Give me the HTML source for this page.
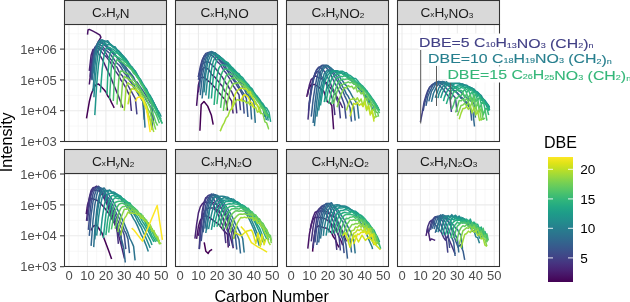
<!DOCTYPE html>
<html><head><meta charset="utf-8"><style>
html,body{margin:0;padding:0;background:#fff;width:630px;height:302px;overflow:hidden;}
body{position:relative;font-family:"Liberation Sans", sans-serif;}
</style></head><body>
<svg width="630" height="302" viewBox="0 0 630 302" style="position:absolute;left:0;top:0;will-change:transform">
<rect x="64" y="24" width="102" height="117" fill="#fff"/>
<path d="M78.22 24V141M96.67 24V141M115.12 24V141M133.57 24V141M152.03 24V141M64 33.70H166M64 64.50H166M64 95.30H166M64 126.10H166" stroke="#f2f2f2" stroke-width="0.6" fill="none"/>
<path d="M69.00 24V141M87.45 24V141M105.90 24V141M124.35 24V141M142.80 24V141M161.25 24V141M64 49.10H166M64 79.90H166M64 110.70H166" stroke="#ebebeb" stroke-width="1.1" fill="none"/>
<g id="curves_0_0"></g>
<rect x="175" y="24" width="102" height="117" fill="#fff"/>
<path d="M189.22 24V141M207.68 24V141M226.12 24V141M244.57 24V141M263.02 24V141M175 33.70H277M175 64.50H277M175 95.30H277M175 126.10H277" stroke="#f2f2f2" stroke-width="0.6" fill="none"/>
<path d="M180.00 24V141M198.45 24V141M216.90 24V141M235.35 24V141M253.80 24V141M272.25 24V141M175 49.10H277M175 79.90H277M175 110.70H277" stroke="#ebebeb" stroke-width="1.1" fill="none"/>
<g id="curves_0_1"></g>
<rect x="286" y="24" width="102" height="117" fill="#fff"/>
<path d="M300.23 24V141M318.68 24V141M337.12 24V141M355.57 24V141M374.02 24V141M286 33.70H388M286 64.50H388M286 95.30H388M286 126.10H388" stroke="#f2f2f2" stroke-width="0.6" fill="none"/>
<path d="M291.00 24V141M309.45 24V141M327.90 24V141M346.35 24V141M364.80 24V141M383.25 24V141M286 49.10H388M286 79.90H388M286 110.70H388" stroke="#ebebeb" stroke-width="1.1" fill="none"/>
<g id="curves_0_2"></g>
<rect x="397" y="24" width="102" height="117" fill="#fff"/>
<path d="M411.23 24V141M429.68 24V141M448.12 24V141M466.57 24V141M485.02 24V141M397 33.70H499M397 64.50H499M397 95.30H499M397 126.10H499" stroke="#f2f2f2" stroke-width="0.6" fill="none"/>
<path d="M402.00 24V141M420.45 24V141M438.90 24V141M457.35 24V141M475.80 24V141M494.25 24V141M397 49.10H499M397 79.90H499M397 110.70H499" stroke="#ebebeb" stroke-width="1.1" fill="none"/>
<g id="curves_0_3"></g>
<rect x="64" y="173" width="102" height="93" fill="#fff"/>
<path d="M78.22 173V266M96.67 173V266M115.12 173V266M133.57 173V266M152.03 173V266M64 189.45H166M64 220.35H166M64 251.25H166" stroke="#f2f2f2" stroke-width="0.6" fill="none"/>
<path d="M69.00 173V266M87.45 173V266M105.90 173V266M124.35 173V266M142.80 173V266M161.25 173V266M64 174.00H166M64 204.90H166M64 235.80H166" stroke="#ebebeb" stroke-width="1.1" fill="none"/>
<g id="curves_1_0"></g>
<rect x="175" y="173" width="102" height="93" fill="#fff"/>
<path d="M189.22 173V266M207.68 173V266M226.12 173V266M244.57 173V266M263.02 173V266M175 189.45H277M175 220.35H277M175 251.25H277" stroke="#f2f2f2" stroke-width="0.6" fill="none"/>
<path d="M180.00 173V266M198.45 173V266M216.90 173V266M235.35 173V266M253.80 173V266M272.25 173V266M175 174.00H277M175 204.90H277M175 235.80H277" stroke="#ebebeb" stroke-width="1.1" fill="none"/>
<g id="curves_1_1"></g>
<rect x="286" y="173" width="102" height="93" fill="#fff"/>
<path d="M300.23 173V266M318.68 173V266M337.12 173V266M355.57 173V266M374.02 173V266M286 189.45H388M286 220.35H388M286 251.25H388" stroke="#f2f2f2" stroke-width="0.6" fill="none"/>
<path d="M291.00 173V266M309.45 173V266M327.90 173V266M346.35 173V266M364.80 173V266M383.25 173V266M286 174.00H388M286 204.90H388M286 235.80H388" stroke="#ebebeb" stroke-width="1.1" fill="none"/>
<g id="curves_1_2"></g>
<rect x="397" y="173" width="102" height="93" fill="#fff"/>
<path d="M411.23 173V266M429.68 173V266M448.12 173V266M466.57 173V266M485.02 173V266M397 189.45H499M397 220.35H499M397 251.25H499" stroke="#f2f2f2" stroke-width="0.6" fill="none"/>
<path d="M402.00 173V266M420.45 173V266M438.90 173V266M457.35 173V266M475.80 173V266M494.25 173V266M397 174.00H499M397 204.90H499M397 235.80H499" stroke="#ebebeb" stroke-width="1.1" fill="none"/>
<g id="curves_1_3"></g>
<svg x="65" y="25" width="101" height="116" viewBox="65 25 101 116" overflow="hidden"><g fill="none" stroke-width="1.5" stroke-linejoin="round"><path d="M86.5 118.3 L87.5 112.3 L89.3 101.8 L91.1 94.5 L93.0 89.7 L94.8 86.1 L96.7 84.2 L98.5 84.1 L100.4 85.8 L102.2 87.7 L104.1 89.7 L105.9 92.0 L107.7 96.0 L109.6 98.3 L111.4 102.4 L113.3 106.0 L114.2 107.9" stroke="#440154"/><path d="M87.5 34.6 L88.0 30.0 L89.3 29.4 L93.0 31.2 L96.7 33.1 L100.0 35.2 L100.9 37.4 L98.5 41.4 L95.8 47.6 L92.6 56.8 L91.1 66.0 L90.2 76.8 L89.3 84.5" stroke="#471365"/><path d="M89.3 70.8 L91.1 55.3 L93.0 49.4 L94.8 49.2 L96.7 50.2 L98.5 53.6 L100.4 56.1 L102.2 59.1 L104.1 63.0 L105.9 67.1 L107.7 71.1 L109.6 74.9 L111.4 78.9 L113.3 83.8 L115.1 88.0 L117.0 92.6 L118.8 97.0 L120.7 102.0 L122.5 107.0 L122.7 107.9" stroke="#482374"/><path d="M90.2 76.9 L91.1 64.8 L93.0 51.3 L94.8 48.4 L96.7 47.1 L98.5 48.5 L100.4 50.4 L102.2 52.6 L104.1 55.0 L105.9 56.4 L107.7 58.6 L109.6 61.2 L111.4 64.0 L113.3 67.2 L115.1 70.7 L117.0 73.1 L118.8 75.7 L120.7 79.7 L122.5 82.0 L124.3 85.2 L126.2 88.3 L128.0 92.5 L129.9 95.6 L131.4 111.0" stroke="#46327e"/><path d="M91.1 73.9 L93.0 56.3 L94.8 47.2 L96.7 46.3 L98.5 46.4 L100.4 48.0 L102.2 48.8 L104.1 50.8 L105.9 53.2 L107.7 56.7 L109.6 57.9 L111.4 60.0 L113.3 62.4 L115.1 65.7 L117.0 67.3 L118.8 71.4 L120.7 74.0 L122.5 76.1 L124.3 79.5 L126.2 81.6 L128.0 85.5 L129.9 89.0 L131.7 92.0 L133.6 95.6 L135.4 99.0 L136.9 114.4" stroke="#424086"/><path d="M91.1 79.6 L93.0 59.5 L94.8 48.6 L96.7 45.5 L98.5 43.7 L100.4 45.4 L102.2 45.9 L104.1 48.4 L105.9 50.2 L107.7 51.6 L109.6 53.2 L111.4 55.7 L113.3 58.3 L115.1 60.9 L117.0 63.2 L118.8 64.8 L120.7 67.0 L122.5 70.1 L124.3 73.1 L126.2 74.9 L128.0 78.6 L129.9 81.1 L131.7 83.3 L133.6 87.5 L135.4 89.2 L137.3 92.6 L139.1 95.3 L141.0 98.4 L142.8 101.4 L144.3 119.8" stroke="#3d4e8a"/><path d="M92.1 73.4 L93.0 64.5 L94.8 50.8 L96.7 44.9 L98.5 42.7 L100.4 42.5 L102.2 43.6 L104.1 44.8 L105.9 46.5 L107.7 48.8 L109.6 49.8 L111.4 51.9 L113.3 54.0 L115.1 55.2 L117.0 57.6 L118.8 59.8 L120.7 62.0 L122.5 63.5 L124.3 65.7 L126.2 67.6 L128.0 70.5 L129.9 72.4 L131.7 74.7 L133.6 77.3 L135.4 81.4 L137.3 82.3 L139.1 85.3 L141.0 87.9 L142.8 90.6 L144.6 93.3 L146.5 96.0 L148.3 99.1 L150.2 102.6 L152.0 104.6 L153.5 123.1" stroke="#365c8d"/><path d="M92.1 80.3 L93.0 67.9 L94.8 52.9 L96.7 44.7 L98.5 42.2 L100.4 41.6 L102.2 42.3 L104.1 44.3 L105.9 45.0 L107.7 46.9 L109.6 49.2 L111.4 51.7 L113.3 52.3 L115.1 54.8 L117.0 57.1 L118.8 59.3 L120.7 60.7 L122.5 64.0 L124.3 66.4 L126.2 69.6 L128.0 70.8 L129.9 73.7 L131.7 76.3 L133.6 79.5 L135.4 81.9 L137.3 85.0 L139.1 87.8 L141.0 91.0 L142.8 94.6 L144.6 96.4 L146.5 100.8 L148.3 103.1 L150.2 106.2 L151.1 108.1 L152.6 129.7" stroke="#31688e"/><path d="M93.0 73.5 L94.8 56.2 L96.7 46.4 L98.5 41.5 L100.4 40.7 L102.2 40.3 L104.1 42.1 L105.9 44.2 L107.7 46.8 L109.6 48.6 L111.4 49.8 L113.3 52.7 L115.1 55.3 L117.0 57.0 L118.8 61.0 L120.7 63.4 L122.5 66.2 L124.3 68.7 L126.2 72.2 L128.0 75.3 L129.9 78.9 L131.7 81.0 L133.6 84.2 L135.4 88.1 L137.3 91.1 L139.1 95.2 L141.0 98.3 L142.8 100.9 L143.5 102.9 L145.0 127.6" stroke="#2c738e"/><path d="M93.0 91.2 L94.8 67.0 L96.7 50.9 L98.5 43.3 L100.4 40.0 L102.2 39.9 L104.1 40.6 L105.9 41.5 L107.7 40.7 L109.6 43.3 L111.4 45.6 L113.3 46.5 L115.1 47.5 L117.0 49.8 L118.8 50.9 L120.7 53.0 L122.5 55.7 L124.3 58.0 L126.2 60.5 L128.0 62.8 L129.9 65.6 L131.7 66.9 L133.6 69.3 L135.4 73.4 L137.3 76.1 L139.1 79.2 L141.0 81.8 L142.8 85.8 L144.6 87.9 L146.5 89.9 L148.3 93.9 L150.2 96.6 L152.0 100.6 L153.9 102.9 L155.7 107.1 L157.6 110.9" stroke="#277f8e"/><path d="M93.9 97.2 L94.8 84.4 L96.7 63.9 L98.5 50.6 L100.4 44.2 L102.2 41.2 L104.1 41.8 L105.9 41.5 L107.7 42.3 L109.6 44.0 L111.4 44.8 L113.3 46.7 L115.1 46.8 L117.0 49.9 L118.8 51.6 L120.7 53.8 L122.5 55.5 L124.3 57.5 L126.2 59.4 L128.0 62.3 L129.9 64.6 L131.7 67.6 L133.6 70.0 L135.4 71.0 L137.3 74.6 L139.1 78.2 L141.0 81.4 L142.8 84.2 L144.6 86.9 L146.5 90.0 L148.3 93.5 L150.2 97.1 L152.0 99.1 L153.9 103.0 L155.7 106.8 L157.6 110.3 L159.4 114.0" stroke="#238a8d"/><path d="M94.8 115.1 L96.7 84.1 L98.5 64.9 L100.4 52.8 L102.2 46.5 L104.1 43.5 L105.9 44.1 L107.7 44.7 L109.6 44.5 L111.4 45.5 L113.3 47.6 L115.1 48.3 L117.0 50.2 L118.8 51.7 L120.7 54.2 L122.5 55.2 L124.3 57.1 L126.2 59.5 L128.0 61.8 L129.9 66.2 L131.7 66.8 L133.6 69.5 L135.4 72.2 L137.3 75.1 L139.1 77.6 L141.0 80.3 L142.8 83.6 L144.6 86.7 L146.5 89.0 L148.3 93.3 L150.2 95.5 L152.0 99.2 L153.9 103.1 L155.7 106.3 L157.6 110.1 L159.4 112.9 L161.2 116.7" stroke="#1f968b"/><path d="M100.4 92.5 L102.2 69.1 L104.1 55.1 L105.9 48.8 L107.7 47.7 L109.6 47.5 L111.4 48.6 L113.3 49.4 L115.1 50.8 L117.0 52.0 L118.8 54.4 L120.7 55.1 L122.5 57.4 L124.3 59.2 L126.2 61.6 L128.0 63.6 L129.9 66.6 L131.7 68.0 L133.6 71.9 L135.4 74.3 L137.3 76.5 L139.1 78.8 L141.0 82.3 L142.8 85.5 L144.6 89.2 L146.5 91.8 L148.3 95.0 L150.2 97.6 L152.0 101.5 L153.9 106.0 L155.7 107.9 L157.6 112.6 L159.4 116.6 L161.2 119.3" stroke="#1fa187"/><path d="M107.0 94.4 L107.7 76.5 L109.6 54.6 L111.4 51.2 L113.3 51.5 L115.1 53.3 L117.0 52.7 L118.8 54.4 L120.7 56.4 L122.5 58.2 L124.3 60.0 L126.2 61.4 L128.0 63.8 L129.9 66.1 L131.7 67.7 L133.6 70.4 L135.4 73.3 L137.3 75.5 L139.1 78.0 L141.0 82.1 L142.8 84.9 L144.6 87.4 L146.5 90.8 L148.3 94.4 L150.2 97.4 L152.0 102.1 L153.9 105.9 L155.7 109.4 L157.6 112.9 L159.4 117.3 L161.2 121.2 L162.2 123.5" stroke="#26ad81"/><path d="M109.6 98.7 L111.4 65.5 L113.3 56.0 L115.1 55.6 L117.0 56.8 L118.8 57.6 L120.7 58.9 L122.5 59.7 L124.3 61.5 L126.2 62.5 L128.0 65.6 L129.9 67.0 L131.7 69.1 L133.6 71.9 L135.4 73.9 L137.3 77.4 L139.1 78.5 L141.0 83.0 L142.8 84.9 L144.6 89.0 L146.5 91.1 L148.3 95.2 L150.2 98.4 L152.0 102.0 L153.9 105.1 L155.7 109.5 L157.6 114.6 L159.4 117.6 L161.2 121.2 L162.2 123.5" stroke="#35b779"/><path d="M113.3 101.0 L115.1 65.5 L117.0 59.5 L118.8 60.7 L120.7 61.2 L122.5 62.3 L124.3 63.7 L126.2 65.5 L128.0 66.2 L129.9 68.2 L131.7 69.9 L133.6 73.4 L135.4 74.7 L137.3 77.4 L139.1 80.1 L141.0 84.1 L142.8 86.9 L144.6 90.5 L146.5 93.9 L148.3 98.3 L150.2 100.8 L152.0 105.4 L153.9 110.4 L155.7 113.6 L157.6 118.0 L159.4 123.3" stroke="#4ac16d"/><path d="M117.0 104.6 L118.8 79.2 L120.7 71.0 L122.5 71.2 L124.3 72.0 L126.2 73.6 L128.0 73.6 L129.9 75.0 L131.7 76.8 L133.6 80.0 L135.4 81.3 L137.3 84.4 L139.1 86.2 L141.0 90.1 L142.8 93.0 L144.6 96.2 L146.5 99.0 L148.3 103.7 L150.2 107.6 L152.0 112.2 L153.9 115.9 L155.7 121.8 L157.6 125.6" stroke="#65cb5e"/><path d="M120.7 107.5 L122.5 83.0 L124.3 76.3 L126.2 77.8 L128.0 78.2 L129.9 80.2 L131.7 80.8 L133.6 83.7 L135.4 84.4 L137.3 87.6 L139.1 89.7 L141.0 93.4 L142.8 96.5 L144.6 101.2 L146.5 104.9 L148.3 109.9 L150.2 112.9 L152.0 119.9 L153.9 123.2 L155.7 129.6" stroke="#81d34d"/><path d="M124.3 110.7 L126.2 86.5 L128.0 82.7 L129.9 84.3 L131.7 85.1 L133.6 86.8 L135.4 87.9 L137.3 90.6 L139.1 93.1 L141.0 97.7 L142.8 100.5 L144.6 105.7 L146.5 109.5 L148.3 115.2 L150.2 119.7 L152.0 127.2 L153.9 132.0" stroke="#a0da39"/><path d="M128.0 104.3 L129.9 93.1 L131.7 88.8 L133.6 89.1 L135.4 89.8 L137.3 91.8 L139.1 92.4 L141.0 96.7 L142.8 98.0 L144.6 104.2 L146.5 106.4 L148.3 114.4 L150.2 120.1 L152.0 130.1" stroke="#c0df25"/><path d="M135.4 101.4 L137.3 97.6 L139.1 97.0 L141.0 97.9 L142.8 99.1 L144.6 102.9 L146.5 109.2 L148.3 119.7 L150.2 132.2" stroke="#fde725"/></g></svg>
<svg x="176" y="25" width="101" height="116" viewBox="176 25 101 116" overflow="hidden"><g fill="none" stroke-width="1.5" stroke-linejoin="round"><path d="M199.9 130.7 L201.2 104.5 L204.0 101.5 L207.7 106.1 L211.4 115.3 L213.2 124.6" stroke="#440154"/><path d="M196.6 105.9 L198.4 85.1 L200.3 77.8 L202.1 77.4 L204.0 77.3 L205.8 78.8 L207.7 80.7 L209.5 81.9 L211.4 83.8 L213.2 85.7 L215.1 87.8 L216.9 89.7 L218.7 92.4 L220.6 94.4 L222.4 96.9 L224.3 98.7 L226.1 101.4 L227.6 110.7" stroke="#471365"/><path d="M198.4 92.4 L200.3 76.9 L202.1 69.6 L204.0 67.6 L205.8 68.1 L207.7 68.8 L209.5 70.6 L211.4 74.2 L213.2 75.9 L215.1 77.3 L216.9 79.7 L218.7 81.9 L220.6 84.4 L222.4 86.2 L224.3 90.4 L226.1 92.8 L228.0 94.6 L229.8 98.2 L231.7 101.2 L233.1 113.5" stroke="#482374"/><path d="M198.4 77.1 L200.3 70.1 L202.1 64.7 L204.0 62.4 L205.8 62.1 L207.7 61.7 L209.5 62.5 L211.4 64.5 L213.2 66.0 L215.1 68.0 L216.9 70.3 L218.7 72.9 L220.6 74.9 L222.4 77.3 L224.3 80.3 L226.1 83.6 L228.0 85.8 L229.8 89.3 L231.7 91.7 L233.5 95.7 L235.3 98.0 L236.8 113.4" stroke="#46327e"/><path d="M198.3 76.8 L198.4 76.3 L200.3 66.6 L202.1 60.2 L204.0 56.3 L205.8 55.0 L207.7 54.3 L209.5 53.6 L211.4 55.1 L213.2 56.4 L215.1 58.1 L216.9 61.3 L218.7 62.8 L220.6 64.8 L222.4 68.1 L224.3 71.0 L226.1 73.1 L228.0 76.2 L229.8 78.9 L231.7 82.5 L233.5 86.1 L235.3 88.7 L237.2 92.2 L239.0 94.9 L240.5 110.3" stroke="#424086"/><path d="M198.4 79.8 L200.3 69.7 L202.1 61.9 L204.0 56.1 L205.8 53.4 L207.7 52.8 L209.5 52.2 L211.4 52.4 L213.2 53.7 L215.1 55.2 L216.9 57.4 L218.7 59.6 L220.6 61.9 L222.4 63.6 L224.3 67.6 L226.1 69.1 L228.0 71.7 L229.8 75.0 L231.7 77.0 L233.5 80.3 L235.3 82.6 L237.2 86.0 L239.0 88.7 L240.9 91.6 L242.7 95.1 L244.2 113.6" stroke="#3d4e8a"/><path d="M199.4 86.5 L200.3 79.5 L202.1 66.8 L204.0 60.1 L205.8 55.8 L207.7 53.1 L209.5 52.4 L211.4 51.8 L213.2 53.2 L215.1 54.6 L216.9 56.7 L218.7 58.1 L220.6 60.8 L222.4 62.2 L224.3 64.1 L226.1 67.9 L228.0 70.8 L229.8 72.0 L231.7 73.7 L233.5 78.1 L235.3 81.0 L237.2 83.0 L239.0 86.5 L240.9 89.4 L242.7 92.3 L244.6 95.0 L246.4 98.6 L247.9 117.0" stroke="#365c8d"/><path d="M200.3 95.2 L202.1 78.4 L204.0 66.9 L205.8 59.1 L207.7 55.1 L209.5 52.7 L211.4 52.7 L213.2 53.1 L215.1 53.0 L216.9 55.2 L218.7 56.8 L220.6 58.4 L222.4 60.7 L224.3 62.7 L226.1 64.5 L228.0 66.8 L229.8 69.7 L231.7 71.2 L233.5 74.2 L235.3 77.0 L237.2 79.4 L239.0 81.8 L240.9 83.5 L242.7 87.6 L244.6 89.7 L246.4 93.6 L248.3 95.5 L250.1 98.0 L251.6 119.5" stroke="#31688e"/><path d="M202.1 98.5 L204.0 79.2 L205.8 65.8 L207.7 57.6 L209.5 53.6 L211.4 51.5 L213.2 52.1 L215.1 53.3 L216.9 54.4 L218.7 55.9 L220.6 57.5 L222.4 59.4 L224.3 61.2 L226.1 64.1 L228.0 65.0 L229.8 67.9 L231.7 70.4 L233.5 71.9 L235.3 74.0 L237.2 76.8 L239.0 79.5 L240.9 82.6 L242.7 83.4 L244.6 87.0 L246.4 90.7 L248.3 93.3 L250.1 95.7 L252.0 99.3 L253.8 101.4 L255.3 122.9" stroke="#2c738e"/><path d="M204.0 92.4 L205.8 73.8 L207.7 62.5 L209.5 57.8 L211.4 53.6 L213.2 53.6 L215.1 52.8 L216.9 54.5 L218.7 55.8 L220.6 58.1 L222.4 58.5 L224.3 60.2 L226.1 63.4 L228.0 64.7 L229.8 67.1 L231.7 68.8 L233.5 71.4 L235.3 72.1 L237.2 75.5 L239.0 77.3 L240.9 79.2 L242.7 81.9 L244.6 84.0 L246.4 86.4 L248.3 88.5 L250.1 91.3 L252.0 93.3 L253.8 95.5 L255.6 98.0 L257.5 100.2 L259.3 102.8 L261.2 104.8 L263.0 107.8 L264.5 117.0" stroke="#277f8e"/><path d="M205.8 95.4 L207.7 76.9 L209.5 64.9 L211.4 58.5 L213.2 54.6 L215.1 54.6 L216.9 54.9 L218.7 55.7 L220.6 57.2 L222.4 59.2 L224.3 61.7 L226.1 62.4 L228.0 64.4 L229.8 67.1 L231.7 68.2 L233.5 70.9 L235.3 73.2 L237.2 74.8 L239.0 77.1 L240.9 79.2 L242.7 82.3 L244.6 83.0 L246.4 86.4 L248.3 89.2 L250.1 90.6 L252.0 93.4 L253.8 95.5 L255.6 98.3 L257.5 100.6 L259.3 103.0 L261.2 106.0 L263.0 107.8 L264.9 110.9 L266.3 120.2" stroke="#238a8d"/><path d="M208.6 98.8 L209.5 86.8 L211.4 70.2 L213.2 61.3 L215.1 57.4 L216.9 55.6 L218.7 57.1 L220.6 57.9 L222.4 58.7 L224.3 60.9 L226.1 61.8 L228.0 63.6 L229.8 64.9 L231.7 67.6 L233.5 69.4 L235.3 70.9 L237.2 74.2 L239.0 73.8 L240.9 77.6 L242.7 79.8 L244.6 81.3 L246.4 83.9 L248.3 87.0 L250.1 88.2 L252.0 90.5 L253.8 93.4 L255.6 95.8 L257.5 97.9 L259.3 101.0 L261.2 102.9 L263.0 105.5 L264.9 108.4 L266.7 111.3 L268.2 120.6" stroke="#1f968b"/><path d="M211.4 98.5 L213.2 77.6 L215.1 64.7 L216.9 59.8 L218.7 58.0 L220.6 58.6 L222.4 59.5 L224.3 61.2 L226.1 61.9 L228.0 62.8 L229.8 65.4 L231.7 67.2 L233.5 68.7 L235.3 70.7 L237.2 72.7 L239.0 74.2 L240.9 76.4 L242.7 77.7 L244.6 80.4 L246.4 82.4 L248.3 84.4 L250.1 87.2 L252.0 88.6 L253.8 91.9 L255.6 94.4 L257.5 96.6 L259.3 98.9 L261.2 101.9 L263.0 103.8 L264.9 107.1 L266.7 108.2 L268.6 111.5 L269.1 112.5 L270.6 121.8" stroke="#1fa187"/><path d="M214.1 105.0 L215.1 92.8 L216.9 76.5 L218.7 68.5 L220.6 65.4 L222.4 64.6 L224.3 65.3 L226.1 65.5 L228.0 66.6 L229.8 68.4 L231.7 69.6 L233.5 72.0 L235.3 72.8 L237.2 74.8 L239.0 76.5 L240.9 77.9 L242.7 81.7 L244.6 82.6 L246.4 85.4 L248.3 86.8 L250.1 90.0 L252.0 92.0 L253.8 94.1 L255.6 96.4 L257.5 99.1 L259.3 102.1 L261.2 104.7 L263.0 106.7 L264.9 109.8 L266.7 113.4 L268.6 115.0 L269.5 116.7" stroke="#26ad81"/><path d="M216.9 104.1 L218.7 87.4 L220.6 76.4 L222.4 71.9 L224.3 69.1 L226.1 69.3 L228.0 69.2 L229.8 69.9 L231.7 71.7 L233.5 72.6 L235.3 73.9 L237.2 74.9 L239.0 76.8 L240.9 79.5 L242.7 80.6 L244.6 82.5 L246.4 83.9 L248.3 87.9 L250.1 89.6 L252.0 91.2 L253.8 94.9 L255.6 97.4 L257.5 99.2 L259.3 101.7 L261.2 105.3 L263.0 107.6 L264.9 110.7 L266.7 113.1 L268.6 116.8 L269.5 117.9" stroke="#35b779"/><path d="M220.6 107.9 L222.4 91.3 L224.3 80.7 L226.1 75.7 L228.0 74.0 L229.8 73.9 L231.7 74.0 L233.5 75.5 L235.3 76.5 L237.2 77.7 L239.0 79.4 L240.9 80.0 L242.7 81.3 L244.6 85.2 L246.4 86.2 L248.3 88.7 L250.1 89.3 L252.0 92.2 L253.8 94.5 L255.6 97.5 L257.5 99.4 L259.3 102.3 L261.2 104.7 L263.0 107.5 L264.9 109.8 L266.7 114.2 L268.6 116.4" stroke="#4ac16d"/><path d="M223.4 111.0 L224.3 103.1 L226.1 90.2 L228.0 83.4 L229.8 79.9 L231.7 78.3 L233.5 77.7 L235.3 78.9 L237.2 79.6 L239.0 80.9 L240.9 81.4 L242.7 83.0 L244.6 83.7 L246.4 87.5 L248.3 88.2 L250.1 91.9 L252.0 92.8 L253.8 96.4 L255.6 97.8 L257.5 101.5 L259.3 103.1 L261.2 107.6 L263.0 109.2 L264.9 113.1 L266.7 115.8" stroke="#65cb5e"/><path d="M226.1 110.4 L228.0 99.7 L229.8 90.4 L231.7 86.5 L233.5 83.4 L235.3 83.5 L237.2 82.7 L239.0 82.7 L240.9 84.6 L242.7 85.7 L244.6 86.5 L246.4 90.0 L248.3 91.1 L250.1 95.5 L252.0 95.7 L253.8 99.9 L255.6 101.8 L257.5 106.1 L259.3 107.1 L261.2 113.2 L263.0 114.1 L264.9 121.9 L266.7 122.9 L268.6 128.8 L269.1 128.8" stroke="#81d34d"/><path d="M219.9 131.1 L220.6 130.4 L222.4 125.9 L224.3 122.6 L226.1 117.9 L228.0 115.9 L229.8 110.8 L231.7 108.6 L233.5 105.5 L235.3 101.8 L237.2 99.6 L239.0 100.3 L240.9 99.6 L242.7 101.2 L244.6 100.8 L246.4 103.1 L248.3 102.0 L250.1 105.1 L252.0 104.8 L253.8 107.9 L255.6 107.3 L257.5 112.1 L259.3 111.3 L261.2 114.2" stroke="#a0da39"/><path d="M231.7 110.1 L233.5 100.8 L235.3 93.8 L237.2 90.5 L239.0 89.3 L240.9 88.1 L242.7 88.2 L244.6 89.0 L246.4 89.0 L248.3 92.8 L250.1 91.6 L252.0 97.0 L253.8 98.8 L255.6 104.2 L257.5 104.7 L259.3 111.3" stroke="#c0df25"/><path d="M240.9 101.2 L242.7 96.4 L244.6 94.6 L246.4 95.7 L248.3 97.1 L250.1 101.7 L252.0 102.8 L253.8 107.6" stroke="#dfe318"/></g></svg>
<svg x="287" y="25" width="101" height="116" viewBox="287 25 101 116" overflow="hidden"><g fill="none" stroke-width="1.5" stroke-linejoin="round"><path d="M306.7 96.8 L308.5 89.1 L311.3 84.5 L315.0 84.5 L319.0 87.3 L323.7 91.0 L327.3 101.8 L329.9 102.7 L331.8 105.5 L332.7 116.6 L333.6 129.2" stroke="#460a5d"/><path d="M307.6 95.2 L309.4 84.9 L311.3 79.3 L313.1 78.2 L315.0 76.0 L316.8 76.5 L318.7 77.8 L320.5 78.2 L322.4 79.5 L324.2 81.3 L326.1 82.3 L327.9 84.8 L329.7 86.9 L331.6 89.5 L333.4 91.5 L335.3 94.5 L337.1 97.2 L339.0 100.9 L340.8 104.0 L342.7 108.0" stroke="#482374"/><path d="M308.0 119.6 L309.4 102.7 L311.3 87.7 L313.1 78.6 L315.0 74.6 L316.8 72.1 L318.7 71.2 L320.5 74.9 L322.4 77.8 L324.2 81.1 L326.1 83.7 L327.9 88.0 L329.7 91.8 L331.6 96.5 L333.4 101.4 L334.9 115.2" stroke="#46327e"/><path d="M308.5 110.6 L309.4 102.2 L311.3 88.1 L313.1 79.6 L315.0 73.2 L316.8 69.4 L318.7 67.2 L320.5 67.9 L322.4 68.9 L324.2 71.2 L326.1 73.6 L327.9 77.8 L329.7 81.0 L331.6 86.6 L333.4 89.6 L335.3 94.3 L337.1 100.2 L339.0 104.5 L340.4 118.3" stroke="#424086"/><path d="M309.4 104.0 L311.3 91.6 L313.1 81.5 L315.0 73.9 L316.8 70.2 L318.7 67.6 L320.5 66.4 L322.4 65.2 L324.2 65.5 L326.1 67.2 L327.9 69.7 L329.7 72.3 L331.6 76.4 L333.4 80.2 L335.3 84.3 L337.1 86.6 L339.0 91.2 L340.8 94.9 L342.7 100.0 L344.5 104.9 L346.0 118.7" stroke="#3d4e8a"/><path d="M311.3 116.6 L313.1 99.8 L315.0 87.5 L316.8 78.2 L318.7 70.8 L320.5 67.7 L322.4 65.7 L324.2 65.3 L326.1 65.4 L327.9 66.2 L329.7 68.9 L331.6 71.8 L333.4 74.4 L335.3 77.8 L337.1 80.6 L339.0 83.6 L340.8 88.1 L342.7 90.8 L344.5 95.6 L346.4 99.3 L348.2 103.8 L350.0 107.7 L351.5 121.6" stroke="#365c8d"/><path d="M313.1 123.0 L315.0 103.1 L316.8 88.5 L318.7 78.2 L320.5 71.7 L322.4 68.3 L324.2 66.0 L326.1 65.3 L327.9 65.5 L329.7 67.3 L331.6 68.6 L333.4 71.9 L335.3 74.9 L337.1 76.5 L339.0 80.8 L340.8 82.9 L342.7 86.9 L344.5 89.6 L346.4 94.1 L348.2 96.2 L350.0 100.3 L351.9 104.3 L353.7 106.8 L355.2 120.7" stroke="#31688e"/><path d="M314.4 126.1 L315.0 119.7 L316.8 101.4 L318.7 87.4 L320.5 78.0 L322.4 71.4 L324.2 68.0 L326.1 67.1 L327.9 66.6 L329.7 67.0 L331.6 68.8 L333.4 70.2 L335.3 71.9 L337.1 73.7 L339.0 75.7 L340.8 79.1 L342.7 81.0 L344.5 84.0 L346.4 85.6 L348.2 89.4 L350.0 92.0 L351.9 95.7 L353.7 98.6 L355.6 101.3 L357.4 104.7 L358.9 118.6" stroke="#2c738e"/><path d="M316.8 116.7 L318.7 101.1 L320.5 88.0 L322.4 80.3 L324.2 73.7 L326.1 71.6 L327.9 69.6 L329.7 70.4 L331.6 69.6 L333.4 70.4 L335.3 70.7 L337.1 71.1 L339.0 72.0 L340.8 72.6 L342.7 73.4 L344.5 74.7 L346.4 76.3 L348.2 78.4 L350.0 79.7 L351.9 81.1 L353.7 83.9 L355.6 84.5 L357.4 87.0 L359.3 89.2 L361.1 91.0 L363.0 93.5 L364.8 96.3 L366.6 99.5 L368.5 101.6 L370.3 104.5 L372.2 108.0 L374.0 110.2" stroke="#277f8e"/><path d="M318.7 110.5 L320.5 97.6 L322.4 86.4 L324.2 79.9 L326.1 74.2 L327.9 71.8 L329.7 71.5 L331.6 71.1 L333.4 70.7 L335.3 71.1 L337.1 70.7 L339.0 71.6 L340.8 72.8 L342.7 73.3 L344.5 75.6 L346.4 75.6 L348.2 76.7 L350.0 78.6 L351.9 80.4 L353.7 81.5 L355.6 82.6 L357.4 85.3 L359.3 88.0 L361.1 88.9 L363.0 92.7 L364.8 94.0 L366.6 97.0 L368.5 98.8 L370.3 102.4 L372.2 104.2 L374.0 107.5 L375.9 111.5" stroke="#238a8d"/><path d="M320.5 105.5 L322.4 93.2 L324.2 84.0 L326.1 78.6 L327.9 74.9 L329.7 72.9 L331.6 71.5 L333.4 71.4 L335.3 71.5 L337.1 72.3 L339.0 71.7 L340.8 72.1 L342.7 74.0 L344.5 73.2 L346.4 74.8 L348.2 76.4 L350.0 78.2 L351.9 78.3 L353.7 79.8 L355.6 81.8 L357.4 84.0 L359.3 84.4 L361.1 87.0 L363.0 88.8 L364.8 89.3 L366.6 91.8 L368.5 94.6 L370.3 97.6 L372.2 99.5 L374.0 103.3 L375.9 104.9 L377.7 108.0" stroke="#1f968b"/><path d="M324.2 102.1 L326.1 90.8 L327.9 81.6 L329.7 76.4 L331.6 73.0 L333.4 71.0 L335.3 71.1 L337.1 71.2 L339.0 71.6 L340.8 71.3 L342.7 71.3 L344.5 72.4 L346.4 72.8 L348.2 74.6 L350.0 75.4 L351.9 76.8 L353.7 78.3 L355.6 78.4 L357.4 80.5 L359.3 82.9 L361.1 84.8 L363.0 86.4 L364.8 89.1 L366.6 90.5 L368.5 93.6 L370.3 95.6 L372.2 98.4 L374.0 100.8 L375.9 103.9 L377.7 106.9 L378.6 108.1" stroke="#1fa187"/><path d="M326.1 101.8 L327.9 91.9 L329.7 84.6 L331.6 79.0 L333.4 76.2 L335.3 74.9 L337.1 73.6 L339.0 74.1 L340.8 73.1 L342.7 73.8 L344.5 75.1 L346.4 74.8 L348.2 75.6 L350.0 78.2 L351.9 78.4 L353.7 79.5 L355.6 81.6 L357.4 82.7 L359.3 84.4 L361.1 85.5 L363.0 87.5 L364.8 88.5 L366.6 92.1 L368.5 93.7 L370.3 96.7 L372.2 99.1 L374.0 102.5 L375.9 105.6 L377.7 108.0 L379.6 110.3" stroke="#26ad81"/><path d="M328.8 103.8 L329.7 99.0 L331.6 90.5 L333.4 85.0 L335.3 79.8 L337.1 77.4 L339.0 77.0 L340.8 76.3 L342.7 76.7 L344.5 75.7 L346.4 76.6 L348.2 77.4 L350.0 77.9 L351.9 78.8 L353.7 80.3 L355.6 82.0 L357.4 83.4 L359.3 85.2 L361.1 85.9 L363.0 86.9 L364.8 90.7 L366.6 92.0 L368.5 94.2 L370.3 97.2 L372.2 99.2 L374.0 102.5 L375.9 104.2 L377.7 107.9 L379.6 110.7" stroke="#35b779"/><path d="M331.6 104.2 L333.4 95.8 L335.3 89.9 L337.1 84.7 L339.0 81.2 L340.8 80.0 L342.7 79.1 L344.5 79.5 L346.4 79.0 L348.2 79.0 L350.0 79.9 L351.9 79.8 L353.7 81.8 L355.6 83.4 L357.4 85.0 L359.3 85.3 L361.1 87.6 L363.0 89.0 L364.8 91.3 L366.6 93.0 L368.5 95.6 L370.3 98.9 L372.2 101.3 L374.0 103.8 L375.9 107.9 L377.7 109.8 L379.6 113.2" stroke="#4ac16d"/><path d="M333.4 103.7 L335.3 97.5 L337.1 91.3 L339.0 88.0 L340.8 84.8 L342.7 84.5 L344.5 83.2 L346.4 82.8 L348.2 81.8 L350.0 82.8 L351.9 82.2 L353.7 84.1 L355.6 84.3 L357.4 86.7 L359.3 86.9 L361.1 89.9 L363.0 90.1 L364.8 94.5 L366.6 94.6 L368.5 98.7 L370.3 100.3 L372.2 105.4 L374.0 105.6 L375.9 112.0 L377.7 112.8 L378.6 116.6" stroke="#65cb5e"/><path d="M337.1 107.3 L339.0 100.4 L340.8 95.0 L342.7 90.8 L344.5 87.5 L346.4 88.0 L348.2 85.5 L350.0 86.9 L351.9 86.3 L353.7 88.9 L355.6 86.8 L357.4 91.9 L359.3 90.3 L361.1 94.0 L363.0 92.1 L364.8 98.4 L366.6 98.3 L368.5 105.3 L370.3 103.0 L372.2 111.4 L374.0 108.7 L375.9 116.9 L377.7 116.1" stroke="#81d34d"/><path d="M346.4 110.4 L348.2 105.1 L350.0 99.4 L351.9 99.3 L353.7 98.0 L355.6 100.3 L357.4 97.8 L359.3 101.9 L361.1 99.0 L363.0 106.1 L364.8 98.7 L366.6 110.6 L368.5 105.5 L370.3 113.5 L372.2 111.6 L374.0 118.5 L375.9 115.6" stroke="#a0da39"/><path d="M350.0 116.4 L351.9 110.0 L353.7 103.3 L355.6 104.4 L357.4 102.3 L359.3 105.4 L361.1 103.7 L363.0 106.6 L364.8 102.4 L366.6 109.4 L368.5 105.9 L370.3 115.0 L372.2 110.3 L374.0 121.6" stroke="#c0df25"/></g></svg>
<svg x="398" y="25" width="101" height="116" viewBox="398 25 101 116" overflow="hidden"><g fill="none" stroke-width="1.5" stroke-linejoin="round"><path d="M420.4 122.1 L422.3 112.5 L424.1 102.0 L426.0 95.5 L427.8 90.6 L429.7 87.2 L431.5 86.0 L433.4 84.1 L435.2 84.0 L437.1 82.1 L438.9 84.7 L440.7 86.7 L442.6 88.6 L444.4 91.0 L446.3 93.6 L448.1 95.9 L450.0 98.2 L451.4 112.0" stroke="#424086"/><path d="M423.2 110.8 L424.1 105.5 L426.0 98.3 L427.8 92.3 L429.7 87.4 L431.5 85.1 L433.4 83.8 L435.2 82.8 L437.1 82.2 L438.9 81.5 L440.7 83.4 L442.6 84.7 L444.4 85.7 L446.3 88.4 L448.1 90.0 L450.0 91.4 L451.8 93.6 L453.7 96.1 L455.5 98.1 L457.0 111.9" stroke="#3d4e8a"/><path d="M426.0 105.8 L427.8 96.5 L429.7 91.8 L431.5 88.1 L433.4 84.5 L435.2 82.6 L437.1 82.3 L438.9 82.3 L440.7 81.7 L442.6 82.4 L444.4 82.7 L446.3 84.2 L448.1 85.7 L450.0 86.6 L451.8 88.6 L453.7 90.5 L455.5 91.4 L457.4 93.0 L459.2 95.1 L461.0 97.1 L462.9 98.4 L464.7 101.5 L466.6 101.9 L468.4 103.9 L470.3 106.8 L471.7 120.7" stroke="#365c8d"/><path d="M428.8 101.4 L429.7 98.2 L431.5 91.3 L433.4 88.3 L435.2 84.9 L437.1 82.4 L438.9 81.3 L440.7 82.5 L442.6 81.7 L444.4 82.1 L446.3 83.7 L448.1 84.1 L450.0 86.9 L451.8 87.8 L453.7 90.2 L455.5 90.9 L457.4 93.5 L459.2 95.6 L461.0 98.3 L462.9 98.8 L464.7 101.5 L466.6 103.7 L468.4 105.8 L470.3 108.5 L472.1 111.3 L473.0 112.6 L474.5 126.5" stroke="#31688e"/><path d="M431.5 101.8 L433.4 93.5 L435.2 89.6 L437.1 85.7 L438.9 83.4 L440.7 82.1 L442.6 81.5 L444.4 82.3 L446.3 83.2 L448.1 83.3 L450.0 83.8 L451.8 85.2 L453.7 86.7 L455.5 88.3 L457.4 89.4 L459.2 91.1 L461.0 92.2 L462.9 94.5 L464.7 95.7 L466.6 97.5 L468.4 98.9 L470.3 100.8 L472.1 101.5 L474.0 103.8 L475.4 117.7" stroke="#2c738e"/><path d="M435.2 97.7 L437.1 93.0 L438.9 87.8 L440.7 85.1 L442.6 83.0 L444.4 83.6 L446.3 81.8 L448.1 81.9 L450.0 83.0 L451.8 82.9 L453.7 82.9 L455.5 82.8 L457.4 82.8 L459.2 82.5 L461.0 84.0 L462.9 84.1 L464.7 85.1 L466.6 85.2 L468.4 86.7 L470.3 87.5 L472.1 90.0 L474.0 91.0 L475.8 92.9 L477.6 93.6 L479.5 96.0 L481.3 98.6 L483.2 101.0 L485.0 103.2 L486.9 106.5 L488.7 109.6" stroke="#277f8e"/><path d="M438.0 98.2 L438.9 94.0 L440.7 90.1 L442.6 86.8 L444.4 85.0 L446.3 84.0 L448.1 82.8 L450.0 82.6 L451.8 83.0 L453.7 82.9 L455.5 83.1 L457.4 83.2 L459.2 84.2 L461.0 84.1 L462.9 84.3 L464.7 85.2 L466.6 85.8 L468.4 86.7 L470.3 87.4 L472.1 88.0 L474.0 89.8 L475.8 91.1 L477.6 92.3 L479.5 94.1 L481.3 95.6 L483.2 99.5 L485.0 100.5 L486.9 103.6 L488.7 106.1 L489.6 107.2" stroke="#238a8d"/><path d="M440.7 97.9 L442.6 92.3 L444.4 88.8 L446.3 85.7 L448.1 85.1 L450.0 84.5 L451.8 83.8 L453.7 84.5 L455.5 83.2 L457.4 83.8 L459.2 83.5 L461.0 84.7 L462.9 85.2 L464.7 85.4 L466.6 85.7 L468.4 87.0 L470.3 87.4 L472.1 88.6 L474.0 89.0 L475.8 91.4 L477.6 92.2 L479.5 94.7 L481.3 96.7 L483.2 98.7 L485.0 101.3 L486.9 103.3 L488.7 105.7 L489.6 107.5" stroke="#1f968b"/><path d="M443.5 101.2 L444.4 97.4 L446.3 92.9 L448.1 89.6 L450.0 87.7 L451.8 87.3 L453.7 85.8 L455.5 86.9 L457.4 85.8 L459.2 86.1 L461.0 85.7 L462.9 86.5 L464.7 87.2 L466.6 87.1 L468.4 88.2 L470.3 88.8 L472.1 89.6 L474.0 90.8 L475.8 92.1 L477.6 93.9 L479.5 95.4 L481.3 98.2 L483.2 99.5 L485.0 102.5 L486.9 104.1 L488.7 107.0 L489.6 110.1" stroke="#1fa187"/><path d="M446.3 104.0 L448.1 98.4 L450.0 92.7 L451.8 90.6 L453.7 88.1 L455.5 88.3 L457.4 87.2 L459.2 88.9 L461.0 87.4 L462.9 88.1 L464.7 88.0 L466.6 89.5 L468.4 88.1 L470.3 90.5 L472.1 89.3 L474.0 93.1 L475.8 92.3 L477.6 96.4 L479.5 95.0 L481.3 100.3 L483.2 98.9 L485.0 104.0 L486.9 104.5 L488.7 110.2 L489.6 109.4" stroke="#26ad81"/><path d="M450.0 100.4 L451.8 97.2 L453.7 91.4 L455.5 92.1 L457.4 89.4 L459.2 91.0 L461.0 90.2 L462.9 91.9 L464.7 89.3 L466.6 92.8 L468.4 89.7 L470.3 94.8 L472.1 91.7 L474.0 96.9 L475.8 94.2 L477.6 100.5 L479.5 97.0 L481.3 104.4 L483.2 101.0 L485.0 109.2 L486.9 108.3 L488.7 115.0" stroke="#35b779"/><path d="M451.8 109.3 L453.7 104.4 L455.5 98.0 L457.4 98.2 L459.2 95.1 L461.0 95.8 L462.9 92.5 L464.7 97.8 L466.6 93.7 L468.4 97.6 L470.3 94.7 L472.1 100.8 L474.0 94.4 L475.8 101.8 L477.6 98.6 L479.5 108.1 L481.3 104.6 L483.2 114.9 L485.0 109.5 L486.9 120.7" stroke="#4ac16d"/><path d="M455.5 112.4 L457.4 106.7 L459.2 100.4 L461.0 100.9 L462.9 99.1 L464.7 101.3 L466.6 98.3 L468.4 101.8 L470.3 97.3 L472.1 104.0 L474.0 98.1 L475.8 108.4 L477.6 102.1 L479.5 111.7 L481.3 108.4 L483.2 119.3 L485.0 118.0" stroke="#65cb5e"/><path d="M457.4 115.7 L459.2 110.8 L461.0 105.5 L462.9 105.0 L464.7 103.3 L466.6 105.8 L468.4 102.5 L470.3 106.9 L472.1 102.1 L474.0 109.5 L475.8 106.8 L477.6 113.0 L479.5 109.0 L481.3 119.9 L483.2 118.6" stroke="#81d34d"/><path d="M459.2 119.3 L461.0 113.4 L462.9 108.6 L464.7 108.6 L466.6 106.5 L468.4 109.4 L470.3 106.0 L472.1 112.9 L474.0 107.3 L475.8 115.0 L477.6 111.2 L479.5 120.4 L481.3 119.0" stroke="#a0da39"/></g></svg>
<svg x="65" y="174" width="101" height="92" viewBox="65 174 101 92" overflow="hidden"><g fill="none" stroke-width="1.5" stroke-linejoin="round"><path d="M91.0 230.5 L93.2 226.2 L96.5 225.0 L101.8 232.7 L105.2 241.4 L108.5 250.3 L111.6 259.0" stroke="#440154"/><path d="M86.2 214.1 L87.5 205.1 L89.3 199.8 L91.1 198.6 L93.0 199.1 L94.8 199.5 L96.7 200.2 L98.5 201.4 L100.4 203.1 L102.2 205.3 L104.1 207.4 L105.9 209.7 L107.7 212.0 L109.6 214.7 L111.4 218.1 L113.3 221.3 L115.1 224.1 L117.0 228.7 L118.8 231.8 L120.7 235.6" stroke="#471365"/><path d="M86.5 220.8 L87.5 211.7 L89.3 199.0 L91.1 191.9 L93.0 189.8 L94.8 190.3 L96.7 190.1 L98.5 190.6 L100.4 192.3 L102.2 194.8 L104.1 197.9 L105.9 201.9 L107.7 204.7 L109.6 209.1 L111.4 213.5 L113.3 217.9 L115.1 224.0 L117.0 229.8 L118.8 236.0 L120.7 243.0 L122.5 250.3 L124.3 257.8 L124.7 258.6" stroke="#482374"/><path d="M87.5 207.8 L89.3 197.7 L91.1 190.5 L93.0 187.7 L94.8 187.2 L96.7 186.1 L98.5 188.3 L100.4 191.7 L102.2 194.1 L104.1 198.1 L105.9 202.1 L107.7 205.8 L109.6 211.4 L111.4 215.5 L113.3 219.9 L115.1 224.5 L117.0 229.9 L118.4 243.8" stroke="#46327e"/><path d="M87.5 220.8 L89.3 205.5 L91.1 195.2 L93.0 189.2 L94.8 187.7 L96.7 187.3 L98.5 187.2 L100.4 189.5 L102.2 192.5 L104.1 194.9 L105.9 198.3 L107.7 202.6 L109.6 206.3 L111.4 210.0 L113.3 214.6 L115.1 219.5 L117.0 223.3 L118.8 228.4 L120.7 232.6 L122.1 246.5" stroke="#424086"/><path d="M88.4 229.9 L89.3 219.1 L91.1 203.1 L93.0 194.0 L94.8 189.3 L96.7 187.7 L98.5 186.2 L100.4 188.0 L102.2 191.6 L104.1 194.1 L105.9 196.3 L107.7 200.1 L109.6 203.2 L111.4 206.4 L113.3 210.5 L115.1 214.5 L117.0 218.7 L118.8 222.7 L120.7 226.8 L122.5 230.5 L124.3 235.3 L125.8 249.2" stroke="#3d4e8a"/><path d="M89.3 235.9 L91.1 215.1 L93.0 201.8 L94.8 194.3 L96.7 189.4 L98.5 187.4 L100.4 187.9 L102.2 188.7 L104.1 191.5 L105.9 193.9 L107.7 197.3 L109.6 198.9 L111.4 203.0 L113.3 206.2 L115.1 210.5 L117.0 214.7 L118.8 217.3 L120.7 222.2 L122.5 225.2 L124.3 230.3 L126.2 233.7 L128.0 239.2 L129.5 253.1" stroke="#365c8d"/><path d="M91.1 245.9 L93.0 220.7 L94.8 204.9 L96.7 195.1 L98.5 189.5 L100.4 188.6 L102.2 188.5 L104.1 190.9 L105.9 194.7 L107.7 199.0 L109.6 203.4 L111.4 208.3 L113.3 213.4 L115.1 219.4 L117.0 224.7 L118.8 230.4 L120.7 237.2 L122.5 243.3 L123.8 248.6 L125.3 262.5" stroke="#31688e"/><path d="M93.7 247.1 L94.8 230.1 L96.7 210.3 L98.5 198.3 L100.4 191.3 L102.2 188.9 L104.1 187.9 L105.9 190.4 L107.7 191.7 L109.6 196.3 L111.4 198.3 L113.3 201.6 L115.1 205.0 L117.0 208.7 L118.8 212.2 L120.7 215.4 L122.5 220.2 L124.3 223.8 L126.2 228.6 L128.0 232.9 L129.9 238.5 L131.7 242.0 L133.6 246.4 L135.1 260.3" stroke="#2c738e"/><path d="M94.8 239.5 L96.7 218.4 L98.5 204.6 L100.4 194.8 L102.2 191.8 L104.1 190.1 L105.9 190.8 L107.7 190.5 L109.6 190.2 L111.4 191.7 L113.3 193.5 L115.1 193.6 L117.0 195.0 L118.8 196.7 L120.7 198.6 L122.5 201.2 L124.3 202.1 L126.2 206.2 L128.0 208.5 L129.9 212.3 L131.7 215.1 L133.6 218.9 L135.4 221.6 L137.3 225.6 L139.1 229.8 L141.0 234.3 L142.8 237.4 L144.6 241.6 L146.5 246.2 L148.3 251.4" stroke="#277f8e"/><path d="M96.7 235.6 L98.5 217.8 L100.4 205.7 L102.2 197.4 L104.1 193.7 L105.9 191.5 L107.7 191.8 L109.6 190.2 L111.4 191.9 L113.3 192.0 L115.1 192.8 L117.0 194.6 L118.8 195.6 L120.7 196.9 L122.5 199.0 L124.3 201.1 L126.2 203.3 L128.0 205.9 L129.9 208.2 L131.7 210.7 L133.6 213.6 L135.4 216.5 L137.3 220.3 L139.1 224.0 L141.0 227.0 L142.8 231.1 L144.6 234.8 L146.5 239.3 L148.3 243.5 L150.2 248.0" stroke="#238a8d"/><path d="M100.4 235.5 L102.2 218.3 L104.1 205.9 L105.9 198.5 L107.7 194.0 L109.6 193.4 L111.4 193.0 L113.3 193.5 L115.1 194.8 L117.0 194.1 L118.8 195.3 L120.7 196.2 L122.5 198.8 L124.3 199.7 L126.2 201.5 L128.0 204.3 L129.9 205.5 L131.7 208.4 L133.6 210.4 L135.4 214.1 L137.3 216.6 L139.1 219.6 L141.0 223.2 L142.8 225.8 L144.6 228.8 L146.5 233.1 L148.3 236.6 L150.2 240.3 L152.0 244.9" stroke="#1f968b"/><path d="M103.3 238.2 L104.1 230.8 L105.9 214.3 L107.7 204.7 L109.6 199.1 L111.4 196.0 L113.3 195.4 L115.1 196.4 L117.0 195.9 L118.8 196.8 L120.7 197.0 L122.5 198.5 L124.3 199.2 L126.2 201.4 L128.0 202.8 L129.9 204.6 L131.7 206.4 L133.6 208.5 L135.4 210.2 L137.3 213.6 L139.1 215.7 L141.0 219.0 L142.8 222.1 L144.6 224.7 L146.5 228.4 L148.3 231.0 L150.2 234.9 L152.0 238.5 L153.9 241.8" stroke="#1fa187"/><path d="M105.9 235.1 L107.7 220.2 L109.6 210.2 L111.4 203.0 L113.3 199.5 L115.1 197.8 L117.0 198.2 L118.8 198.7 L120.7 198.3 L122.5 199.0 L124.3 200.4 L126.2 201.3 L128.0 202.6 L129.9 203.0 L131.7 206.1 L133.6 207.9 L135.4 209.7 L137.3 211.5 L139.1 214.3 L141.0 216.4 L142.8 218.9 L144.6 221.2 L146.5 225.1 L148.3 228.3 L150.2 231.5 L152.0 235.6 L153.9 238.8 L155.7 241.9" stroke="#26ad81"/><path d="M108.7 232.7 L109.6 224.2 L111.4 213.8 L113.3 206.9 L115.1 202.5 L117.0 201.7 L118.8 201.2 L120.7 201.3 L122.5 201.3 L124.3 200.8 L126.2 202.7 L128.0 203.9 L129.9 204.7 L131.7 205.7 L133.6 207.4 L135.4 208.9 L137.3 211.7 L139.1 213.6 L141.0 215.5 L142.8 217.7 L144.6 219.6 L146.5 223.5 L148.3 225.4 L150.2 228.8 L152.0 231.5 L153.9 235.4 L155.7 239.1 L157.6 241.4" stroke="#35b779"/><path d="M111.4 229.4 L113.3 218.4 L115.1 211.0 L117.0 207.4 L118.8 204.5 L120.7 203.4 L122.5 203.1 L124.3 204.2 L126.2 204.1 L128.0 204.4 L129.9 205.2 L131.7 206.1 L133.6 207.4 L135.4 209.2 L137.3 210.3 L139.1 213.3 L141.0 213.8 L142.8 216.5 L144.6 218.8 L146.5 221.6 L148.3 223.2 L150.2 226.2 L152.0 229.5 L153.9 232.7 L155.7 235.0 L157.6 239.4 L159.4 240.9" stroke="#4ac16d"/><path d="M115.1 228.6 L117.0 219.9 L118.8 212.6 L120.7 208.5 L122.5 206.7 L124.3 206.6 L126.2 205.9 L128.0 207.1 L129.9 206.8 L131.7 208.2 L133.6 208.6 L135.4 211.0 L137.3 211.3 L139.1 214.5 L141.0 214.8 L142.8 217.8 L144.6 218.2 L146.5 222.2 L148.3 222.9 L150.2 226.7 L152.0 228.6 L153.9 233.9 L155.7 234.4 L157.6 240.3 L159.4 240.8" stroke="#65cb5e"/><path d="M117.9 232.1 L118.8 226.6 L120.7 218.8 L122.5 213.8 L124.3 209.2 L126.2 209.3 L128.0 208.4 L129.9 211.4 L131.7 209.5 L133.6 211.2 L135.4 210.5 L137.3 212.8 L139.1 213.4 L141.0 216.9 L142.8 215.6 L144.6 220.5 L146.5 220.0 L148.3 226.0 L150.2 224.8 L152.0 230.7 L153.9 230.5 L155.7 236.4 L157.6 237.8 L159.4 243.8 L161.2 243.3" stroke="#81d34d"/><path d="M120.7 235.3 L122.5 225.7 L124.3 218.7 L126.2 215.8 L128.0 212.1 L129.9 213.5 L131.7 212.8 L133.6 213.5 L135.4 213.1 L137.3 214.9 L139.1 214.4 L141.0 218.2 L142.8 218.0 L144.6 220.7 L146.5 221.7 L148.3 225.7 L150.2 225.0 L152.0 231.0 L153.9 230.9 L155.7 236.0 L157.6 236.4 L159.4 242.7 L161.2 243.6" stroke="#a0da39"/><path d="M131.7 228.1 L134.1 230.2 L142.4 241.1 L157.2 205.5 L162.4 239.8" stroke="#fde725"/></g></svg>
<svg x="176" y="174" width="101" height="92" viewBox="176 174 101 92" overflow="hidden"><g fill="none" stroke-width="1.5" stroke-linejoin="round"><path d="M204.2 242.3 L205.8 251.2 L208.2 253.4 L209.5 251.2 L212.1 249.4" stroke="#440154"/><path d="M196.6 238.9 L198.4 226.5 L200.3 220.3 L203.1 216.6 L205.8 215.7 L209.2 217.3 L213.2 220.3 L218.4 224.1 L223.4 230.2 L227.4 234.3 L228.3 247.5" stroke="#471365"/><path d="M198.4 235.8 L200.3 225.0 L202.1 217.5 L204.0 213.1 L205.8 209.9 L207.7 208.5 L209.5 207.7 L211.4 208.1 L213.2 208.0 L215.1 209.9 L216.9 209.4 L218.7 211.8 L220.6 213.6 L222.4 216.8 L224.3 220.4 L226.1 224.2 L228.0 229.0 L229.8 235.3 L231.7 241.8 L233.3 248.2" stroke="#481b6d"/><path d="M194.9 238.7 L196.6 224.7 L198.4 213.0 L200.3 206.9 L202.1 204.1 L204.0 202.4 L205.8 202.0 L207.7 202.4 L209.5 202.7 L211.4 202.3 L213.2 202.4 L215.1 203.7 L216.9 205.0 L218.7 206.0 L220.6 207.6 L222.4 210.3 L224.3 212.5 L226.1 215.3 L228.0 219.5 L229.8 223.8 L231.7 227.9 L233.5 233.0 L235.3 238.4" stroke="#482374"/><path d="M199.2 249.1 L200.3 231.2 L202.1 211.8 L204.0 202.2 L205.8 197.6 L207.7 196.9 L209.5 199.4 L211.4 201.1 L213.2 204.6 L215.1 208.2 L216.9 212.1 L218.7 215.9 L220.6 221.2 L222.4 224.7 L224.3 229.3 L225.8 243.2" stroke="#46327e"/><path d="M199.4 249.0 L200.3 235.8 L202.1 217.5 L204.0 205.2 L205.8 199.1 L207.7 195.9 L209.5 194.9 L211.4 196.2 L213.2 198.2 L215.1 201.7 L216.9 205.1 L218.7 209.5 L220.6 213.0 L222.4 217.7 L224.3 222.8 L226.1 227.3 L228.0 232.1 L229.4 246.0" stroke="#424086"/><path d="M201.2 241.1 L202.1 232.6 L204.0 215.6 L205.8 205.3 L207.7 199.1 L209.5 196.2 L211.4 194.0 L213.2 195.0 L215.1 196.1 L216.9 198.5 L218.7 203.1 L220.6 206.2 L222.4 210.6 L224.3 214.0 L226.1 217.8 L228.0 222.1 L229.8 228.6 L231.7 233.0 L233.1 246.9" stroke="#3d4e8a"/><path d="M203.1 232.4 L204.0 223.8 L205.8 211.6 L207.7 203.7 L209.5 198.0 L211.4 195.5 L213.2 194.6 L215.1 194.7 L216.9 196.0 L218.7 198.8 L220.6 202.1 L222.4 205.6 L224.3 209.8 L226.1 213.4 L228.0 216.8 L229.8 221.9 L231.7 227.0 L233.5 230.4 L235.3 235.6 L236.8 249.5" stroke="#365c8d"/><path d="M204.9 228.6 L205.8 221.6 L207.7 209.6 L209.5 202.3 L211.4 196.6 L213.2 194.1 L215.1 195.1 L216.9 195.7 L218.7 197.2 L220.6 200.5 L222.4 203.3 L224.3 206.6 L226.1 209.8 L228.0 213.1 L229.8 217.4 L231.7 221.0 L233.5 225.8 L235.3 229.8 L237.2 235.3 L239.0 239.6 L240.5 253.5" stroke="#31688e"/><path d="M206.8 229.3 L207.7 222.1 L209.5 209.7 L211.4 202.1 L213.2 197.5 L215.1 195.8 L216.9 195.2 L218.7 196.3 L220.6 198.4 L222.4 200.8 L224.3 203.3 L226.1 206.5 L228.0 209.3 L229.8 212.4 L231.7 215.7 L233.5 219.5 L235.3 223.9 L237.2 226.9 L239.0 230.6 L240.9 234.3 L242.7 238.6 L244.2 252.5" stroke="#2c738e"/><path d="M205.8 233.0 L207.7 220.4 L209.5 209.9 L211.4 204.0 L213.2 199.4 L215.1 196.9 L216.9 197.2 L218.7 196.4 L220.6 196.3 L222.4 196.3 L224.3 196.5 L226.1 196.9 L228.0 197.3 L229.8 198.7 L231.7 198.8 L233.5 200.0 L235.3 200.8 L237.2 202.6 L239.0 203.8 L240.9 205.7 L242.7 208.3 L244.6 210.9 L246.4 213.9 L248.3 217.5 L250.1 221.0 L252.0 225.2 L253.8 229.2 L255.6 234.2 L257.5 239.2 L259.3 245.7" stroke="#277f8e"/><path d="M208.6 229.2 L209.5 224.1 L211.4 214.6 L213.2 207.5 L215.1 203.1 L216.9 200.0 L218.7 199.0 L220.6 198.7 L222.4 198.5 L224.3 197.5 L226.1 198.2 L228.0 198.9 L229.8 198.7 L231.7 199.9 L233.5 199.1 L235.3 201.5 L237.2 201.7 L239.0 203.0 L240.9 205.6 L242.7 206.7 L244.6 208.6 L246.4 211.4 L248.3 214.3 L250.1 217.2 L252.0 221.2 L253.8 225.1 L255.6 229.6 L257.5 234.0 L259.3 239.9 L261.2 244.7" stroke="#238a8d"/><path d="M211.4 229.9 L213.2 219.8 L215.1 211.5 L216.9 205.6 L218.7 202.5 L220.6 201.3 L222.4 199.9 L224.3 200.2 L226.1 200.0 L228.0 200.0 L229.8 201.2 L231.7 200.3 L233.5 201.2 L235.3 201.7 L237.2 202.8 L239.0 203.7 L240.9 204.7 L242.7 205.3 L244.6 206.6 L246.4 209.3 L248.3 211.1 L250.1 214.3 L252.0 217.9 L253.8 220.2 L255.6 223.6 L257.5 228.0 L259.3 232.0 L261.2 236.6 L263.0 242.4" stroke="#1f968b"/><path d="M214.1 227.2 L215.1 222.0 L216.9 214.6 L218.7 209.3 L220.6 205.1 L222.4 202.6 L224.3 202.5 L226.1 201.5 L228.0 201.4 L229.8 201.5 L231.7 201.4 L233.5 202.3 L235.3 202.1 L237.2 202.0 L239.0 203.2 L240.9 204.7 L242.7 205.2 L244.6 206.3 L246.4 208.3 L248.3 210.6 L250.1 211.7 L252.0 215.5 L253.8 217.5 L255.6 220.8 L257.5 224.9 L259.3 227.6 L261.2 232.2 L263.0 237.5 L264.9 241.7" stroke="#1fa187"/><path d="M216.9 226.7 L218.7 219.5 L220.6 213.2 L222.4 208.7 L224.3 206.0 L226.1 204.7 L228.0 204.1 L229.8 203.8 L231.7 204.1 L233.5 203.5 L235.3 204.1 L237.2 204.2 L239.0 204.5 L240.9 205.8 L242.7 206.3 L244.6 206.2 L246.4 207.8 L248.3 209.5 L250.1 210.8 L252.0 213.0 L253.8 214.8 L255.6 217.7 L257.5 220.0 L259.3 223.9 L261.2 226.0 L263.0 230.6 L264.9 235.2 L266.7 239.0" stroke="#26ad81"/><path d="M219.7 226.7 L220.6 222.6 L222.4 217.1 L224.3 212.0 L226.1 207.6 L228.0 208.0 L229.8 206.4 L231.7 206.3 L233.5 206.0 L235.3 207.0 L237.2 206.8 L239.0 206.2 L240.9 206.7 L242.7 206.4 L244.6 208.1 L246.4 208.5 L248.3 208.2 L250.1 211.2 L252.0 212.7 L253.8 214.1 L255.6 216.1 L257.5 218.0 L259.3 220.9 L261.2 224.2 L263.0 227.0 L264.9 229.4 L266.7 234.0 L268.6 240.2" stroke="#35b779"/><path d="M222.4 229.6 L224.3 222.1 L226.1 215.8 L228.0 212.9 L229.8 210.7 L231.7 208.9 L233.5 208.8 L235.3 208.7 L237.2 208.8 L239.0 209.1 L240.9 207.6 L242.7 208.9 L244.6 208.7 L246.4 209.9 L248.3 210.3 L250.1 211.2 L252.0 211.7 L253.8 215.3 L255.6 215.3 L257.5 217.7 L259.3 219.7 L261.2 222.5 L263.0 224.0 L264.9 227.9 L266.7 230.3 L268.6 235.3 L270.4 237.6" stroke="#4ac16d"/><path d="M226.1 228.9 L228.0 223.2 L229.8 217.5 L231.7 214.5 L233.5 212.6 L235.3 211.0 L237.2 210.7 L239.0 211.2 L240.9 210.7 L242.7 211.3 L244.6 210.9 L246.4 211.9 L248.3 211.8 L250.1 213.6 L252.0 213.2 L253.8 214.8 L255.6 214.9 L257.5 218.2 L259.3 218.7 L261.2 222.1 L263.0 223.3 L264.9 227.3 L266.7 229.7 L268.6 234.1 L270.4 235.6 L271.3 240.6" stroke="#65cb5e"/><path d="M229.8 232.6 L231.7 225.8 L233.5 219.3 L235.3 217.8 L237.2 215.7 L239.0 214.3 L240.9 214.1 L242.7 214.2 L244.6 213.8 L246.4 214.6 L248.3 214.2 L250.1 215.0 L252.0 214.8 L253.8 218.8 L255.6 217.2 L257.5 220.2 L259.3 220.7 L261.2 224.0 L263.0 225.4 L264.9 229.4 L266.7 230.2 L268.6 236.2 L270.4 238.0 L271.3 243.2" stroke="#81d34d"/><path d="M233.5 239.2 L235.3 230.2 L237.2 223.3 L239.0 220.1 L240.9 217.4 L242.7 217.7 L244.6 217.1 L246.4 217.8 L248.3 217.2 L250.1 217.9 L252.0 217.4 L253.8 220.7 L255.6 219.0 L257.5 223.4 L259.3 222.3 L261.2 226.3 L263.0 227.9 L264.9 233.0 L266.7 235.2 L268.6 242.1 L270.4 245.1" stroke="#a0da39"/><path d="M235.3 232.7 L241.1 235.8 L246.4 231.2 L251.4 229.9 L252.9 233.0 L255.8 243.5 L258.0 233.0 L260.4 246.3 L261.9 234.3 L264.1 244.8 L265.8 238.9" stroke="#dfe318"/><path d="M240.9 226.5 L246.4 232.7 L251.4 242.6 L257.5 246.6 L263.0 249.7 L267.1 252.2" stroke="#efe51c"/></g></svg>
<svg x="287" y="174" width="101" height="92" viewBox="287 174 101 92" overflow="hidden"><g fill="none" stroke-width="1.5" stroke-linejoin="round"><path d="M312.6 251.6 L313.1 244.8 L315.0 231.8 L316.8 226.9 L318.7 225.8 L320.5 227.1 L322.4 227.1 L324.2 227.9 L326.1 228.1 L327.9 228.9 L329.7 231.0 L331.6 233.0 L333.4 236.9 L335.3 239.3 L337.1 243.8 L339.0 247.3" stroke="#440154"/><path d="M307.8 248.7 L309.4 234.1 L311.3 224.6 L313.1 219.1 L315.0 217.2 L316.8 217.4 L318.7 217.5 L320.5 217.5 L322.4 218.0 L324.2 218.6 L326.1 219.3 L327.9 220.7 L329.7 221.5 L331.6 224.5 L333.4 225.7 L335.3 229.1 L337.1 232.4 L339.0 236.5 L340.8 240.3 L342.7 245.2" stroke="#471365"/><path d="M310.2 230.1 L311.3 224.5 L313.1 217.2 L315.0 212.5 L316.8 211.4 L318.7 211.4 L320.5 210.6 L322.4 211.2 L324.2 211.1 L326.1 211.6 L327.9 212.7 L329.7 214.5 L331.6 215.1 L333.4 216.4 L335.3 219.0 L337.1 221.2 L339.0 224.0 L340.8 228.2 L342.7 231.5 L344.5 236.0 L346.4 241.5" stroke="#482374"/><path d="M311.3 241.4 L313.1 227.2 L315.0 217.0 L316.8 212.2 L318.7 209.2 L320.5 207.9 L322.4 208.4 L324.2 210.9 L326.1 213.9 L327.9 217.1 L329.7 221.2 L331.6 226.7 L333.4 231.6 L335.3 235.9 L336.8 249.9" stroke="#46327e"/><path d="M313.1 248.2 L315.0 230.3 L316.8 218.1 L318.7 210.5 L320.5 207.3 L322.4 205.7 L324.2 206.3 L326.1 208.4 L327.9 210.7 L329.7 213.9 L331.6 217.7 L333.4 221.8 L335.3 226.1 L337.1 230.6 L339.0 236.6 L340.4 250.5" stroke="#424086"/><path d="M315.0 242.3 L316.8 226.9 L318.7 216.5 L320.5 210.9 L322.4 205.9 L324.2 204.9 L326.1 204.4 L327.9 205.0 L329.7 207.6 L331.6 212.0 L333.4 214.7 L335.3 219.4 L337.1 224.3 L339.0 228.8 L340.8 234.7 L342.7 239.2 L344.1 253.1" stroke="#3d4e8a"/><path d="M316.8 245.0 L318.7 229.0 L320.5 217.3 L322.4 209.9 L324.2 205.7 L326.1 203.4 L327.9 203.4 L329.7 204.4 L331.6 207.0 L333.4 209.9 L335.3 215.1 L337.1 219.2 L339.0 225.0 L340.8 228.7 L342.7 234.4 L344.5 239.6 L346.0 244.8 L347.5 258.7" stroke="#365c8d"/><path d="M318.7 242.5 L320.5 226.3 L322.4 215.8 L324.2 209.8 L326.1 206.2 L327.9 203.6 L329.7 203.5 L331.6 202.8 L333.4 206.5 L335.3 209.1 L337.1 211.9 L339.0 215.9 L340.8 219.1 L342.7 221.6 L344.5 226.4 L346.4 230.6 L348.2 235.1 L350.0 238.6 L351.5 252.5" stroke="#31688e"/><path d="M320.5 238.6 L322.4 225.0 L324.2 215.7 L326.1 209.3 L327.9 205.8 L329.7 204.7 L331.6 203.7 L333.4 205.5 L335.3 207.0 L337.1 208.9 L339.0 211.5 L340.8 214.8 L342.7 217.2 L344.5 220.1 L346.4 223.8 L348.2 227.4 L350.0 230.8 L351.9 234.8 L353.7 239.4 L355.2 253.3" stroke="#2c738e"/><path d="M323.3 235.9 L324.2 228.1 L326.1 218.5 L327.9 211.0 L329.7 207.3 L331.6 205.8 L333.4 205.4 L335.3 204.9 L337.1 204.8 L339.0 204.9 L340.8 206.0 L342.7 205.9 L344.5 206.1 L346.4 206.6 L348.2 207.7 L350.0 208.9 L351.9 210.2 L353.7 212.1 L355.6 214.9 L357.4 216.8 L359.3 219.8 L361.1 223.5 L363.0 226.5 L364.8 228.4 L366.6 234.0 L368.5 238.9 L370.3 243.0 L372.2 247.3 L372.5 249.1" stroke="#277f8e"/><path d="M326.1 235.6 L327.9 223.6 L329.7 215.2 L331.6 209.5 L333.4 207.2 L335.3 206.6 L337.1 206.0 L339.0 206.0 L340.8 206.6 L342.7 206.6 L344.5 206.9 L346.4 207.8 L348.2 207.6 L350.0 209.0 L351.9 210.3 L353.7 212.1 L355.6 213.4 L357.4 213.9 L359.3 217.2 L361.1 218.8 L363.0 221.9 L364.8 224.5 L366.6 227.8 L368.5 232.1 L370.3 235.9 L372.2 240.2 L374.0 245.0" stroke="#238a8d"/><path d="M328.8 232.7 L329.7 227.2 L331.6 218.1 L333.4 212.3 L335.3 209.5 L337.1 208.7 L339.0 207.8 L340.8 208.0 L342.7 207.8 L344.5 207.3 L346.4 208.5 L348.2 208.7 L350.0 209.7 L351.9 210.1 L353.7 211.1 L355.6 211.2 L357.4 213.1 L359.3 215.1 L361.1 215.7 L363.0 219.3 L364.8 220.7 L366.6 223.3 L368.5 226.4 L370.3 230.1 L372.2 233.7 L374.0 237.8 L375.9 241.6" stroke="#1f968b"/><path d="M331.6 233.8 L333.4 223.4 L335.3 216.8 L337.1 213.2 L339.0 211.8 L340.8 210.4 L342.7 210.5 L344.5 209.8 L346.4 209.6 L348.2 210.4 L350.0 211.6 L351.9 211.2 L353.7 212.2 L355.6 212.2 L357.4 212.7 L359.3 214.6 L361.1 215.2 L363.0 217.1 L364.8 219.5 L366.6 222.4 L368.5 224.4 L370.3 228.0 L372.2 230.0 L374.0 233.9 L375.9 237.1 L377.7 241.8" stroke="#1fa187"/><path d="M334.4 233.5 L335.3 227.7 L337.1 220.4 L339.0 215.5 L340.8 214.2 L342.7 213.0 L344.5 212.2 L346.4 212.7 L348.2 212.9 L350.0 212.9 L351.9 211.4 L353.7 213.3 L355.6 214.0 L357.4 214.4 L359.3 215.1 L361.1 215.6 L363.0 217.1 L364.8 218.7 L366.6 220.9 L368.5 222.9 L370.3 225.6 L372.2 228.7 L374.0 230.1 L375.9 234.5 L377.7 237.5 L379.6 242.1" stroke="#26ad81"/><path d="M337.1 232.7 L339.0 225.2 L340.8 220.7 L342.7 217.0 L344.5 215.2 L346.4 214.4 L348.2 214.5 L350.0 214.3 L351.9 214.7 L353.7 215.1 L355.6 216.4 L357.4 216.3 L359.3 216.1 L361.1 217.7 L363.0 218.7 L364.8 220.7 L366.6 222.7 L368.5 223.6 L370.3 226.9 L372.2 229.2 L374.0 232.9 L375.9 236.9 L377.7 241.8 L379.6 245.2 L380.7 248.8" stroke="#35b779"/><path d="M339.9 236.5 L340.8 231.4 L342.7 224.8 L344.5 221.0 L346.4 218.3 L348.2 218.8 L350.0 217.2 L351.9 216.9 L353.7 216.5 L355.6 218.4 L357.4 217.1 L359.3 219.1 L361.1 218.9 L363.0 221.1 L364.8 219.8 L366.6 224.4 L368.5 223.8 L370.3 228.1 L372.2 229.0 L374.0 233.4 L375.9 235.1 L377.7 241.0 L379.6 245.3" stroke="#4ac16d"/><path d="M342.7 235.4 L344.5 230.9 L346.4 225.0 L348.2 222.8 L350.0 219.9 L351.9 220.5 L353.7 219.7 L355.6 220.5 L357.4 219.6 L359.3 222.0 L361.1 220.0 L363.0 223.1 L364.8 222.2 L366.6 226.5 L368.5 225.2 L370.3 229.8 L372.2 227.7 L374.0 235.5 L375.9 234.9 L377.7 242.6 L379.6 243.3" stroke="#65cb5e"/><path d="M345.4 237.5 L346.4 235.7 L348.2 229.8 L350.0 227.5 L351.9 224.6 L353.7 224.6 L355.6 223.4 L357.4 223.8 L359.3 222.5 L361.1 224.9 L363.0 223.6 L364.8 227.4 L366.6 224.7 L368.5 230.9 L370.3 228.7 L372.2 235.0 L374.0 234.3 L375.9 244.5 L377.7 242.9" stroke="#81d34d"/><path d="M348.2 241.4 L350.0 235.9 L351.9 230.5 L353.7 230.3 L355.6 226.8 L357.4 227.7 L359.3 225.1 L361.1 227.2 L363.0 225.5 L364.8 229.7 L366.6 226.9 L368.5 232.7 L370.3 228.3 L372.2 237.4 L374.0 233.3 L375.9 242.7 L377.7 242.5" stroke="#a0da39"/><path d="M351.0 241.0 L351.9 239.9 L353.7 233.2 L355.6 232.4 L357.4 229.8 L359.3 230.5 L361.1 228.9 L363.0 231.6 L364.8 228.3 L366.6 233.6 L368.5 228.6 L370.3 235.0 L372.2 235.3 L374.0 243.1 L375.9 243.1" stroke="#c0df25"/><path d="M342.7 235.8 L345.4 232.7 L348.4 242.0 L350.0 247.2 L351.9 240.4 L355.2 235.2 L358.5 242.0 L362.0 235.2 L365.4 240.4 L368.7 237.0 L373.8 242.9 L380.5 249.7" stroke="#d0e11c"/><path d="M353.7 244.0 L355.6 239.3 L357.4 233.9 L359.3 234.4 L361.1 232.2 L363.0 232.6 L364.8 231.5 L366.6 234.4 L368.5 231.6 L370.3 236.7 L372.2 234.1 L374.0 244.6 L375.9 243.3" stroke="#dfe318"/></g></svg>
<svg x="398" y="174" width="101" height="92" viewBox="398 174 101 92" overflow="hidden"><g fill="none" stroke-width="1.5" stroke-linejoin="round"><path d="M426.0 235.8 L427.8 228.1 L430.0 240.4 L431.5 238.9 L435.2 240.4" stroke="#482374"/><path d="M426.7 232.7 L427.8 226.5 L429.7 221.9 L431.5 220.3 L433.4 221.9 L435.2 225.0 L437.1 226.5 L438.9 229.6 L441.1 231.8 L443.5 237.3 L445.4 240.1 L447.6 236.1 L450.9 243.8 L455.1 254.0" stroke="#46327e"/><path d="M428.8 231.9 L429.7 229.5 L431.5 221.4 L433.4 218.6 L435.2 216.8 L437.1 217.1 L438.9 219.1 L440.7 223.8 L442.6 228.6 L444.4 233.2 L446.3 238.7 L447.8 252.6" stroke="#424086"/><path d="M430.6 229.8 L431.5 225.8 L433.4 219.9 L435.2 217.2 L437.1 216.7 L438.9 216.5 L440.7 219.4 L442.6 221.0 L444.4 225.7 L446.3 229.1 L448.1 234.1 L449.6 248.0" stroke="#3d4e8a"/><path d="M432.4 228.7 L433.4 224.8 L435.2 219.7 L437.1 216.2 L438.9 216.3 L440.7 215.1 L442.6 218.5 L444.4 220.7 L446.3 224.0 L448.1 228.3 L450.0 232.8 L451.8 237.6 L453.7 242.1 L455.1 256.0" stroke="#365c8d"/><path d="M435.2 232.7 L438.9 221.9 L442.6 217.3 L446.3 218.8 L450.0 223.4 L452.7 232.7 L455.5 240.4 L458.1 247.2 L460.5 244.5 L463.1 251.2 L464.7 259.9" stroke="#365c8d"/><path d="M434.3 229.1 L435.2 225.0 L437.1 219.7 L438.9 217.2 L440.7 215.2 L442.6 216.1 L444.4 217.2 L446.3 219.6 L448.1 221.6 L450.0 224.8 L451.8 227.9 L453.7 231.4 L455.5 235.5 L457.4 238.6 L458.8 252.5" stroke="#31688e"/><path d="M436.1 231.9 L437.1 227.4 L438.9 219.9 L440.7 216.8 L442.6 214.7 L444.4 215.7 L446.3 215.9 L448.1 219.0 L450.0 219.4 L451.8 224.6 L453.7 225.0 L455.5 228.2 L457.4 229.3 L459.2 233.2 L461.0 234.9 L462.5 248.8" stroke="#2c738e"/><path d="M438.0 232.2 L438.9 229.1 L440.7 220.0 L442.6 218.0 L444.4 215.9 L446.3 216.6 L448.1 215.6 L450.0 216.8 L451.8 214.6 L453.7 217.5 L455.5 215.7 L457.4 218.4 L459.2 217.4 L461.0 220.7 L462.9 219.1 L464.7 222.9 L466.6 222.0 L468.4 226.2 L470.3 226.4 L472.1 231.4 L474.0 230.5 L475.8 236.9 L477.6 237.6 L479.5 243.3" stroke="#277f8e"/><path d="M440.7 232.3 L442.6 224.9 L444.4 217.7 L446.3 217.5 L448.1 216.2 L450.0 217.3 L451.8 216.2 L453.7 216.5 L455.5 215.2 L457.4 217.7 L459.2 216.0 L461.0 219.2 L462.9 217.7 L464.7 222.6 L466.6 219.9 L468.4 224.3 L470.3 221.1 L472.1 229.2 L474.0 227.2 L475.8 232.0 L477.6 230.6 L479.5 238.1 L481.3 237.6" stroke="#238a8d"/><path d="M442.6 235.2 L444.4 227.4 L446.3 220.6 L448.1 219.3 L450.0 216.6 L451.8 219.1 L453.7 216.3 L455.5 218.8 L457.4 217.2 L459.2 219.8 L461.0 217.2 L462.9 222.1 L464.7 218.7 L466.6 222.6 L468.4 220.7 L470.3 225.0 L472.1 223.5 L474.0 228.0 L475.8 227.7 L477.6 233.1 L479.5 231.7 L481.3 237.1 L483.2 236.1" stroke="#1f968b"/><path d="M445.4 234.8 L446.3 231.5 L448.1 223.9 L450.0 222.9 L451.8 218.6 L453.7 219.9 L455.5 217.8 L457.4 219.9 L459.2 218.2 L461.0 220.5 L462.9 218.7 L464.7 222.0 L466.6 219.4 L468.4 223.0 L470.3 219.1 L472.1 224.5 L474.0 222.7 L475.8 229.2 L477.6 226.8 L479.5 230.7 L481.3 229.9 L483.2 235.7 L485.0 235.0" stroke="#1fa187"/><path d="M448.1 234.5 L450.0 229.5 L451.8 224.1 L453.7 221.8 L455.5 220.3 L457.4 220.4 L459.2 220.0 L461.0 221.2 L462.9 219.8 L464.7 222.1 L466.6 219.4 L468.4 222.8 L470.3 221.4 L472.1 224.5 L474.0 222.0 L475.8 225.8 L477.6 224.2 L479.5 228.7 L481.3 227.1 L483.2 233.9 L485.0 231.5 L486.9 238.5" stroke="#26ad81"/><path d="M450.9 238.1 L451.8 235.1 L453.7 226.6 L455.5 224.5 L457.4 222.1 L459.2 223.5 L461.0 221.8 L462.9 221.9 L464.7 221.2 L466.6 223.3 L468.4 220.4 L470.3 226.4 L472.1 222.8 L474.0 226.2 L475.8 223.4 L477.6 230.1 L479.5 227.8 L481.3 233.8 L483.2 231.5 L485.0 237.4 L486.9 236.3 L487.4 241.2" stroke="#35b779"/><path d="M453.7 238.2 L455.5 231.6 L457.4 226.1 L459.2 224.7 L461.0 222.8 L462.9 223.3 L464.7 222.4 L466.6 223.7 L468.4 222.5 L470.3 226.2 L472.1 222.4 L474.0 228.4 L475.8 224.2 L477.6 228.8 L479.5 227.7 L481.3 232.3 L483.2 228.3 L485.0 236.5 L486.9 233.8 L488.3 240.4" stroke="#4ac16d"/><path d="M456.4 241.3 L457.4 238.5 L459.2 231.1 L461.0 227.8 L462.9 225.8 L464.7 226.4 L466.6 224.4 L468.4 226.6 L470.3 224.9 L472.1 227.9 L474.0 224.8 L475.8 229.1 L477.6 227.8 L479.5 232.9 L481.3 231.4 L483.2 236.7 L485.0 235.0 L486.9 241.8 L487.8 239.2" stroke="#65cb5e"/><path d="M459.2 244.4 L461.0 237.9 L462.9 230.8 L464.7 229.4 L466.6 227.8 L468.4 228.4 L470.3 226.6 L472.1 228.9 L474.0 226.7 L475.8 231.8 L477.6 229.3 L479.5 233.8 L481.3 233.3 L483.2 238.0 L485.0 239.6 L486.9 246.3" stroke="#81d34d"/><path d="M461.0 247.7 L462.9 241.0 L464.7 234.5 L466.6 233.5 L468.4 231.1 L470.3 232.5 L472.1 229.5 L474.0 232.3 L475.8 230.5 L477.6 235.5 L479.5 233.5 L481.3 238.9 L483.2 238.2 L485.0 245.2 L486.9 246.3" stroke="#a0da39"/></g></svg>
<rect x="64.5" y="24.5" width="102" height="117" fill="none" stroke="#333" stroke-width="1.07"/>
<rect x="64.5" y="0.5" width="102" height="24" fill="#d9d9d9" stroke="#333" stroke-width="1.07"/>
<rect x="175.5" y="24.5" width="102" height="117" fill="none" stroke="#333" stroke-width="1.07"/>
<rect x="175.5" y="0.5" width="102" height="24" fill="#d9d9d9" stroke="#333" stroke-width="1.07"/>
<rect x="286.5" y="24.5" width="102" height="117" fill="none" stroke="#333" stroke-width="1.07"/>
<rect x="286.5" y="0.5" width="102" height="24" fill="#d9d9d9" stroke="#333" stroke-width="1.07"/>
<rect x="397.5" y="24.5" width="102" height="117" fill="none" stroke="#333" stroke-width="1.07"/>
<rect x="397.5" y="0.5" width="102" height="24" fill="#d9d9d9" stroke="#333" stroke-width="1.07"/>
<rect x="64.5" y="173.5" width="102" height="93" fill="none" stroke="#333" stroke-width="1.07"/>
<rect x="64.5" y="149.5" width="102" height="24" fill="#d9d9d9" stroke="#333" stroke-width="1.07"/>
<rect x="175.5" y="173.5" width="102" height="93" fill="none" stroke="#333" stroke-width="1.07"/>
<rect x="175.5" y="149.5" width="102" height="24" fill="#d9d9d9" stroke="#333" stroke-width="1.07"/>
<rect x="286.5" y="173.5" width="102" height="93" fill="none" stroke="#333" stroke-width="1.07"/>
<rect x="286.5" y="149.5" width="102" height="24" fill="#d9d9d9" stroke="#333" stroke-width="1.07"/>
<rect x="397.5" y="173.5" width="102" height="93" fill="none" stroke="#333" stroke-width="1.07"/>
<rect x="397.5" y="149.5" width="102" height="24" fill="#d9d9d9" stroke="#333" stroke-width="1.07"/>
<path d="M60 49.10H64" stroke="#333" stroke-width="1.07"/>
<text x="56.8" y="53.70" text-anchor="end" font-size="13" fill="#4d4d4d" font-family="Liberation Sans, sans-serif">1e+06</text>
<path d="M60 79.90H64" stroke="#333" stroke-width="1.07"/>
<text x="56.8" y="84.50" text-anchor="end" font-size="13" fill="#4d4d4d" font-family="Liberation Sans, sans-serif">1e+05</text>
<path d="M60 110.70H64" stroke="#333" stroke-width="1.07"/>
<text x="56.8" y="115.30" text-anchor="end" font-size="13" fill="#4d4d4d" font-family="Liberation Sans, sans-serif">1e+04</text>
<path d="M60 141.50H64" stroke="#333" stroke-width="1.07"/>
<text x="56.8" y="146.10" text-anchor="end" font-size="13" fill="#4d4d4d" font-family="Liberation Sans, sans-serif">1e+03</text>
<path d="M60 174.00H64" stroke="#333" stroke-width="1.07"/>
<text x="56.8" y="178.60" text-anchor="end" font-size="13" fill="#4d4d4d" font-family="Liberation Sans, sans-serif">1e+06</text>
<path d="M60 204.90H64" stroke="#333" stroke-width="1.07"/>
<text x="56.8" y="209.50" text-anchor="end" font-size="13" fill="#4d4d4d" font-family="Liberation Sans, sans-serif">1e+05</text>
<path d="M60 235.80H64" stroke="#333" stroke-width="1.07"/>
<text x="56.8" y="240.40" text-anchor="end" font-size="13" fill="#4d4d4d" font-family="Liberation Sans, sans-serif">1e+04</text>
<path d="M60 266.70H64" stroke="#333" stroke-width="1.07"/>
<text x="56.8" y="271.30" text-anchor="end" font-size="13" fill="#4d4d4d" font-family="Liberation Sans, sans-serif">1e+03</text>
<text x="69.00" y="280.0" text-anchor="middle" font-size="13" fill="#4d4d4d" font-family="Liberation Sans, sans-serif">0</text>
<text x="87.45" y="280.0" text-anchor="middle" font-size="13" fill="#4d4d4d" font-family="Liberation Sans, sans-serif">10</text>
<text x="105.90" y="280.0" text-anchor="middle" font-size="13" fill="#4d4d4d" font-family="Liberation Sans, sans-serif">20</text>
<text x="124.35" y="280.0" text-anchor="middle" font-size="13" fill="#4d4d4d" font-family="Liberation Sans, sans-serif">30</text>
<text x="142.80" y="280.0" text-anchor="middle" font-size="13" fill="#4d4d4d" font-family="Liberation Sans, sans-serif">40</text>
<text x="161.25" y="280.0" text-anchor="middle" font-size="13" fill="#4d4d4d" font-family="Liberation Sans, sans-serif">50</text>
<text x="180.00" y="280.0" text-anchor="middle" font-size="13" fill="#4d4d4d" font-family="Liberation Sans, sans-serif">0</text>
<text x="198.45" y="280.0" text-anchor="middle" font-size="13" fill="#4d4d4d" font-family="Liberation Sans, sans-serif">10</text>
<text x="216.90" y="280.0" text-anchor="middle" font-size="13" fill="#4d4d4d" font-family="Liberation Sans, sans-serif">20</text>
<text x="235.35" y="280.0" text-anchor="middle" font-size="13" fill="#4d4d4d" font-family="Liberation Sans, sans-serif">30</text>
<text x="253.80" y="280.0" text-anchor="middle" font-size="13" fill="#4d4d4d" font-family="Liberation Sans, sans-serif">40</text>
<text x="272.25" y="280.0" text-anchor="middle" font-size="13" fill="#4d4d4d" font-family="Liberation Sans, sans-serif">50</text>
<text x="291.00" y="280.0" text-anchor="middle" font-size="13" fill="#4d4d4d" font-family="Liberation Sans, sans-serif">0</text>
<text x="309.45" y="280.0" text-anchor="middle" font-size="13" fill="#4d4d4d" font-family="Liberation Sans, sans-serif">10</text>
<text x="327.90" y="280.0" text-anchor="middle" font-size="13" fill="#4d4d4d" font-family="Liberation Sans, sans-serif">20</text>
<text x="346.35" y="280.0" text-anchor="middle" font-size="13" fill="#4d4d4d" font-family="Liberation Sans, sans-serif">30</text>
<text x="364.80" y="280.0" text-anchor="middle" font-size="13" fill="#4d4d4d" font-family="Liberation Sans, sans-serif">40</text>
<text x="383.25" y="280.0" text-anchor="middle" font-size="13" fill="#4d4d4d" font-family="Liberation Sans, sans-serif">50</text>
<text x="402.00" y="280.0" text-anchor="middle" font-size="13" fill="#4d4d4d" font-family="Liberation Sans, sans-serif">0</text>
<text x="420.45" y="280.0" text-anchor="middle" font-size="13" fill="#4d4d4d" font-family="Liberation Sans, sans-serif">10</text>
<text x="438.90" y="280.0" text-anchor="middle" font-size="13" fill="#4d4d4d" font-family="Liberation Sans, sans-serif">20</text>
<text x="457.35" y="280.0" text-anchor="middle" font-size="13" fill="#4d4d4d" font-family="Liberation Sans, sans-serif">30</text>
<text x="475.80" y="280.0" text-anchor="middle" font-size="13" fill="#4d4d4d" font-family="Liberation Sans, sans-serif">40</text>
<text x="494.25" y="280.0" text-anchor="middle" font-size="13" fill="#4d4d4d" font-family="Liberation Sans, sans-serif">50</text>
<text x="271.7" y="302.0" text-anchor="middle" font-size="16.1" fill="#000" font-family="Liberation Sans, sans-serif">Carbon Number</text>
<text transform="translate(11.7 142.3) rotate(-90)" text-anchor="middle" font-size="16.1" fill="#000" font-family="Liberation Sans, sans-serif">Intensity</text>
<text x="92.14" y="17.0" font-size="12.6" fill="#1a1a1a" font-family="Liberation Sans, sans-serif" textLength="37.46" lengthAdjust="spacingAndGlyphs"><tspan>C</tspan><tspan font-size="7.6" dy="0.3">x</tspan><tspan dy="-0.3"></tspan><tspan>H</tspan><tspan font-size="7.6" dy="0.3">y</tspan><tspan dy="-0.3"></tspan><tspan>N</tspan></text>
<text x="200.51" y="17.0" font-size="12.6" fill="#1a1a1a" font-family="Liberation Sans, sans-serif" textLength="48.24" lengthAdjust="spacingAndGlyphs"><tspan>C</tspan><tspan font-size="7.6" dy="0.3">x</tspan><tspan dy="-0.3"></tspan><tspan>H</tspan><tspan font-size="7.6" dy="0.3">y</tspan><tspan dy="-0.3"></tspan><tspan>NO</tspan></text>
<text x="311.51" y="17.0" font-size="12.6" fill="#1a1a1a" font-family="Liberation Sans, sans-serif" textLength="52.89" lengthAdjust="spacingAndGlyphs"><tspan>C</tspan><tspan font-size="7.6" dy="0.3">x</tspan><tspan dy="-0.3"></tspan><tspan>H</tspan><tspan font-size="7.6" dy="0.3">y</tspan><tspan dy="-0.3"></tspan><tspan>NO</tspan><tspan font-size="7.6" dy="0.3">2</tspan><tspan dy="-0.3"></tspan></text>
<text x="420.51" y="17.0" font-size="12.6" fill="#1a1a1a" font-family="Liberation Sans, sans-serif" textLength="52.89" lengthAdjust="spacingAndGlyphs"><tspan>C</tspan><tspan font-size="7.6" dy="0.3">x</tspan><tspan dy="-0.3"></tspan><tspan>H</tspan><tspan font-size="7.6" dy="0.3">y</tspan><tspan dy="-0.3"></tspan><tspan>NO</tspan><tspan font-size="7.6" dy="0.3">3</tspan><tspan dy="-0.3"></tspan></text>
<text x="91.97" y="166.0" font-size="12.6" fill="#1a1a1a" font-family="Liberation Sans, sans-serif" textLength="42.45" lengthAdjust="spacingAndGlyphs"><tspan>C</tspan><tspan font-size="7.6" dy="0.3">x</tspan><tspan dy="-0.3"></tspan><tspan>H</tspan><tspan font-size="7.6" dy="0.3">y</tspan><tspan dy="-0.3"></tspan><tspan>N</tspan><tspan font-size="7.6" dy="0.3">2</tspan><tspan dy="-0.3"></tspan></text>
<text x="200.98" y="166.0" font-size="12.6" fill="#1a1a1a" font-family="Liberation Sans, sans-serif" textLength="50.99" lengthAdjust="spacingAndGlyphs"><tspan>C</tspan><tspan font-size="7.6" dy="0.3">x</tspan><tspan dy="-0.3"></tspan><tspan>H</tspan><tspan font-size="7.6" dy="0.3">y</tspan><tspan dy="-0.3"></tspan><tspan>N</tspan><tspan font-size="7.6" dy="0.3">2</tspan><tspan dy="-0.3"></tspan><tspan>O</tspan></text>
<text x="311.55" y="166.0" font-size="12.6" fill="#1a1a1a" font-family="Liberation Sans, sans-serif" textLength="57.18" lengthAdjust="spacingAndGlyphs"><tspan>C</tspan><tspan font-size="7.6" dy="0.3">x</tspan><tspan dy="-0.3"></tspan><tspan>H</tspan><tspan font-size="7.6" dy="0.3">y</tspan><tspan dy="-0.3"></tspan><tspan>N</tspan><tspan font-size="7.6" dy="0.3">2</tspan><tspan dy="-0.3"></tspan><tspan>O</tspan><tspan font-size="7.6" dy="0.3">2</tspan><tspan dy="-0.3"></tspan></text>
<text x="420.14" y="166.0" font-size="12.6" fill="#1a1a1a" font-family="Liberation Sans, sans-serif" textLength="57.28" lengthAdjust="spacingAndGlyphs"><tspan>C</tspan><tspan font-size="7.6" dy="0.3">x</tspan><tspan dy="-0.3"></tspan><tspan>H</tspan><tspan font-size="7.6" dy="0.3">y</tspan><tspan dy="-0.3"></tspan><tspan>N</tspan><tspan font-size="7.6" dy="0.3">2</tspan><tspan dy="-0.3"></tspan><tspan>O</tspan><tspan font-size="7.6" dy="0.3">3</tspan><tspan dy="-0.3"></tspan></text>
<defs><linearGradient id="vg" x1="0" y1="1" x2="0" y2="0">
<stop offset="0.000" stop-color="#440154"/>
<stop offset="0.050" stop-color="#471365"/>
<stop offset="0.100" stop-color="#482475"/>
<stop offset="0.150" stop-color="#463480"/>
<stop offset="0.200" stop-color="#414487"/>
<stop offset="0.250" stop-color="#3b528b"/>
<stop offset="0.300" stop-color="#355f8d"/>
<stop offset="0.350" stop-color="#2f6c8e"/>
<stop offset="0.400" stop-color="#2a788e"/>
<stop offset="0.450" stop-color="#25848e"/>
<stop offset="0.500" stop-color="#21918c"/>
<stop offset="0.550" stop-color="#1e9c89"/>
<stop offset="0.600" stop-color="#22a884"/>
<stop offset="0.650" stop-color="#2fb47c"/>
<stop offset="0.700" stop-color="#44bf70"/>
<stop offset="0.750" stop-color="#5ec962"/>
<stop offset="0.800" stop-color="#7ad151"/>
<stop offset="0.850" stop-color="#9bd93c"/>
<stop offset="0.900" stop-color="#bddf26"/>
<stop offset="0.950" stop-color="#dfe318"/>
<stop offset="1.000" stop-color="#fde725"/>
</linearGradient></defs>
<rect x="548" y="157" width="25" height="125" fill="url(#vg)"/>
<path d="M548 257.90h5M568 257.90h5" stroke="#fff" stroke-opacity="0.7" stroke-width="1.07"/>
<text x="580.2" y="262.80" font-size="13.6" fill="#000" font-family="Liberation Sans, sans-serif">5</text>
<path d="M548 228.40h5M568 228.40h5" stroke="#fff" stroke-opacity="0.7" stroke-width="1.07"/>
<text x="580.2" y="233.30" font-size="13.6" fill="#000" font-family="Liberation Sans, sans-serif">10</text>
<path d="M548 198.90h5M568 198.90h5" stroke="#fff" stroke-opacity="0.7" stroke-width="1.07"/>
<text x="580.2" y="203.80" font-size="13.6" fill="#000" font-family="Liberation Sans, sans-serif">15</text>
<path d="M548 169.40h5M568 169.40h5" stroke="#fff" stroke-opacity="0.7" stroke-width="1.07"/>
<text x="580.2" y="174.30" font-size="13.6" fill="#000" font-family="Liberation Sans, sans-serif">20</text>
<text x="544.0" y="147.6" font-size="16" fill="#000" font-family="Liberation Sans, sans-serif">DBE</text>
<path d="M420.7 50V123.5" stroke="#5c5c5c" stroke-width="1.0"/>
<path d="M436.5 65.9V106" stroke="#5c5c5c" stroke-width="1.0"/>
<path d="M450.6 82.4V107.4" stroke="#5c5c5c" stroke-width="1.0"/>
<rect x="418" y="33.5" width="180" height="16.0" rx="2" fill="#fff"/>
<rect x="428" y="49.4" width="188" height="16.2" rx="2" fill="#fff"/>
<rect x="447" y="66.2" width="190" height="16.3" rx="2" fill="#fff"/>
<text x="419.0" y="46.9" font-size="13.4" fill="#424086" stroke="#424086" stroke-width="0.12" font-family="Liberation Sans, sans-serif" textLength="174.5" lengthAdjust="spacingAndGlyphs" xml:space="preserve"><tspan>DBE=5 C</tspan><tspan font-size="7.6" dy="0.3">10</tspan><tspan dy="-0.3"></tspan><tspan>H</tspan><tspan font-size="7.6" dy="0.3">13</tspan><tspan dy="-0.3"></tspan><tspan>NO</tspan><tspan font-size="7.6" dy="0.3">3</tspan><tspan dy="-0.3"></tspan><tspan> (CH</tspan><tspan font-size="7.6" dy="0.3">2</tspan><tspan dy="-0.3"></tspan><tspan>)</tspan><tspan font-size="7.6" dy="0.3">n</tspan><tspan dy="-0.3"></tspan></text>
<text x="428.1" y="62.5" font-size="13.4" fill="#277f8e" stroke="#277f8e" stroke-width="0.12" font-family="Liberation Sans, sans-serif" textLength="183.8" lengthAdjust="spacingAndGlyphs" xml:space="preserve"><tspan>DBE=10 C</tspan><tspan font-size="7.6" dy="0.3">18</tspan><tspan dy="-0.3"></tspan><tspan>H</tspan><tspan font-size="7.6" dy="0.3">19</tspan><tspan dy="-0.3"></tspan><tspan>NO</tspan><tspan font-size="7.6" dy="0.3">3</tspan><tspan dy="-0.3"></tspan><tspan> (CH</tspan><tspan font-size="7.6" dy="0.3">2</tspan><tspan dy="-0.3"></tspan><tspan>)</tspan><tspan font-size="7.6" dy="0.3">n</tspan><tspan dy="-0.3"></tspan></text>
<text x="447.4" y="79.1" font-size="13.4" fill="#35b779" stroke="#35b779" stroke-width="0.12" font-family="Liberation Sans, sans-serif" textLength="183.8" lengthAdjust="spacingAndGlyphs" xml:space="preserve"><tspan>DBE=15 C</tspan><tspan font-size="7.6" dy="0.3">26</tspan><tspan dy="-0.3"></tspan><tspan>H</tspan><tspan font-size="7.6" dy="0.3">25</tspan><tspan dy="-0.3"></tspan><tspan>NO</tspan><tspan font-size="7.6" dy="0.3">3</tspan><tspan dy="-0.3"></tspan><tspan> (CH</tspan><tspan font-size="7.6" dy="0.3">2</tspan><tspan dy="-0.3"></tspan><tspan>)</tspan><tspan font-size="7.6" dy="0.3">n</tspan><tspan dy="-0.3"></tspan></text>
</svg>
</body></html>
